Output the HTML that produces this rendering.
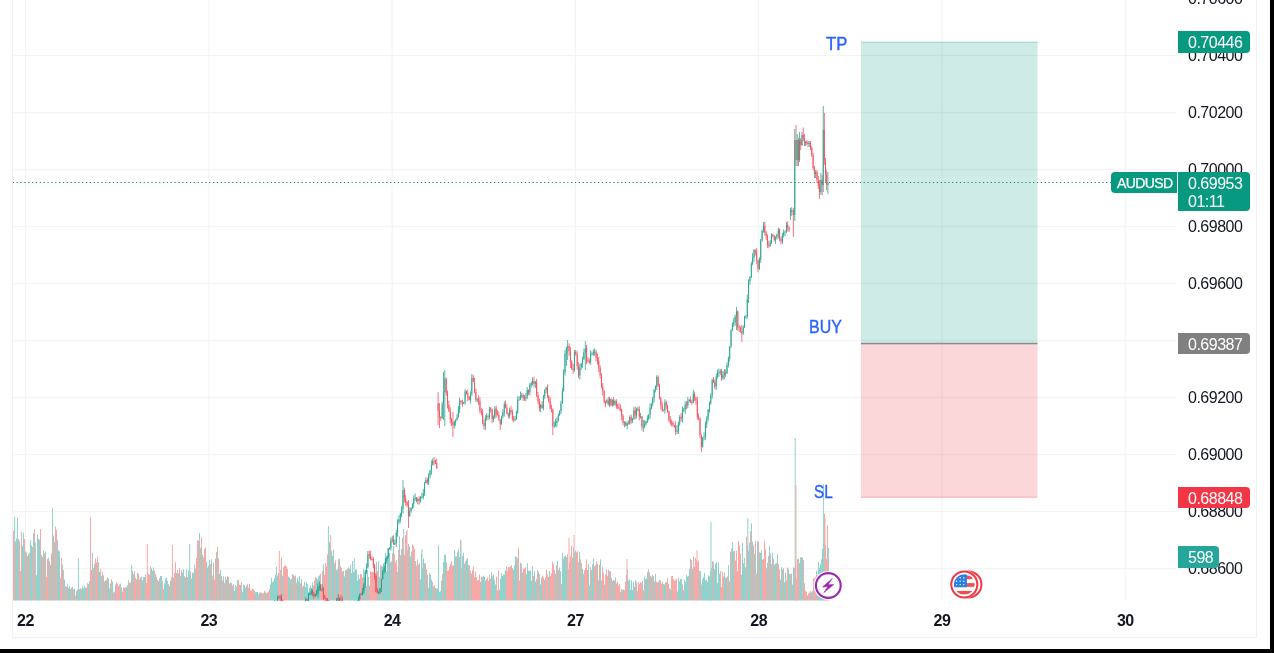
<!DOCTYPE html>
<html><head><meta charset="utf-8">
<style>
*{margin:0;padding:0;box-sizing:border-box}
html,body{width:1274px;height:653px;overflow:hidden;background:#fff;font-family:"Liberation Sans",sans-serif}
#txt{position:absolute;left:0;top:0;width:1274px;height:653px;will-change:transform}
.abs{position:absolute}
#frame{position:absolute;left:12px;top:-2px;width:1245px;height:640px;border:1px solid #f0f1f2}
#bk-r{position:absolute;left:1270px;top:0;width:4px;height:653px;background:#000}
#bk-b{position:absolute;left:0;top:649px;width:1274px;height:4px;background:#000}
.pl{position:absolute;left:1188px;font-size:16px;letter-spacing:-0.5px;color:#131722;line-height:16px;white-space:nowrap}
.tl{position:absolute;top:612.5px;font-size:16px;letter-spacing:-0.5px;font-weight:bold;color:#131722;line-height:16px;width:40px;text-align:center}
.lab{position:absolute;left:1178px;width:72px;height:22px;border-radius:0 4px 4px 0;color:#fff;font-size:16px;letter-spacing:-0.5px;line-height:22px;padding-left:10px;white-space:nowrap}
.blue{position:absolute;color:#2962ff;font-size:19px;line-height:19px;white-space:nowrap;transform-origin:0 0;-webkit-text-stroke:0.4px #2962ff}
</style></head><body>
<div id="frame"></div>
<svg class="abs" style="left:0;top:0" width="1274" height="653" viewBox="0 0 1274 653">
<defs><clipPath id="pane"><rect x="13" y="0" width="1164" height="601"/></clipPath></defs>
<g clip-path="url(#pane)"><g>
<rect x="13" y="54.90" width="1164" height="1.3" fill="#f3f4f4"/>
<rect x="13" y="111.90" width="1164" height="1.3" fill="#f3f4f4"/>
<rect x="13" y="168.90" width="1164" height="1.3" fill="#f3f4f4"/>
<rect x="13" y="225.90" width="1164" height="1.3" fill="#f3f4f4"/>
<rect x="13" y="282.90" width="1164" height="1.3" fill="#f3f4f4"/>
<rect x="13" y="339.90" width="1164" height="1.3" fill="#f3f4f4"/>
<rect x="13" y="396.90" width="1164" height="1.3" fill="#f3f4f4"/>
<rect x="13" y="453.90" width="1164" height="1.3" fill="#f3f4f4"/>
<rect x="13" y="510.90" width="1164" height="1.3" fill="#f3f4f4"/>
<rect x="13" y="567.90" width="1164" height="1.3" fill="#f3f4f4"/>
<rect x="24.90" y="0" width="1.2" height="601" fill="#f3f4f4"/>
<rect x="208.20" y="0" width="1.2" height="601" fill="#f3f4f4"/>
<rect x="391.50" y="0" width="1.2" height="601" fill="#f3f4f4"/>
<rect x="574.80" y="0" width="1.2" height="601" fill="#f3f4f4"/>
<rect x="758.10" y="0" width="1.2" height="601" fill="#f3f4f4"/>
<rect x="941.40" y="0" width="1.2" height="601" fill="#f3f4f4"/>
<rect x="1124.70" y="0" width="1.2" height="601" fill="#f3f4f4"/>
<rect x="13.00" y="530.7" width="1.00" height="69.8" fill="#f7a9a7"/>
<rect x="14.00" y="543.2" width="1.00" height="57.3" fill="#92d2cc"/>
<rect x="15.00" y="541.2" width="1.00" height="59.3" fill="#f7a9a7"/>
<rect x="16.00" y="538.4" width="1.00" height="62.1" fill="#92d2cc"/>
<rect x="17.00" y="517.5" width="1.00" height="83.0" fill="#92d2cc"/>
<rect x="18.00" y="539.0" width="1.00" height="61.5" fill="#f7a9a7"/>
<rect x="19.00" y="540.7" width="1.00" height="59.8" fill="#92d2cc"/>
<rect x="20.00" y="571.0" width="1.00" height="29.5" fill="#f7a9a7"/>
<rect x="21.00" y="531.8" width="1.00" height="68.7" fill="#f7a9a7"/>
<rect x="22.00" y="546.1" width="1.00" height="54.4" fill="#92d2cc"/>
<rect x="23.00" y="532.6" width="1.00" height="67.9" fill="#92d2cc"/>
<rect x="24.00" y="539.1" width="1.00" height="61.4" fill="#f7a9a7"/>
<rect x="25.00" y="551.4" width="1.00" height="49.1" fill="#92d2cc"/>
<rect x="26.00" y="552.5" width="1.00" height="48.0" fill="#92d2cc"/>
<rect x="27.00" y="555.8" width="1.00" height="44.7" fill="#f7a9a7"/>
<rect x="28.00" y="554.3" width="1.00" height="46.2" fill="#92d2cc"/>
<rect x="29.00" y="552.7" width="1.00" height="47.8" fill="#f7a9a7"/>
<rect x="30.00" y="540.1" width="1.00" height="60.4" fill="#92d2cc"/>
<rect x="31.00" y="545.4" width="1.00" height="55.1" fill="#92d2cc"/>
<rect x="32.00" y="547.0" width="1.00" height="53.5" fill="#f7a9a7"/>
<rect x="33.00" y="532.9" width="1.00" height="67.6" fill="#92d2cc"/>
<rect x="34.00" y="529.3" width="1.00" height="71.2" fill="#f7a9a7"/>
<rect x="35.00" y="542.6" width="1.00" height="57.9" fill="#92d2cc"/>
<rect x="36.00" y="575.3" width="1.00" height="25.2" fill="#92d2cc"/>
<rect x="37.00" y="534.5" width="1.00" height="66.0" fill="#92d2cc"/>
<rect x="38.00" y="538.8" width="1.00" height="61.7" fill="#92d2cc"/>
<rect x="39.00" y="539.6" width="1.00" height="60.9" fill="#92d2cc"/>
<rect x="40.00" y="529.1" width="1.00" height="71.4" fill="#f7a9a7"/>
<rect x="41.00" y="555.0" width="1.00" height="45.5" fill="#92d2cc"/>
<rect x="42.00" y="557.0" width="1.00" height="43.5" fill="#f7a9a7"/>
<rect x="43.00" y="550.2" width="1.00" height="50.3" fill="#92d2cc"/>
<rect x="44.00" y="553.7" width="1.00" height="46.8" fill="#f7a9a7"/>
<rect x="45.00" y="551.4" width="1.00" height="49.1" fill="#92d2cc"/>
<rect x="46.00" y="576.8" width="1.00" height="23.7" fill="#f7a9a7"/>
<rect x="47.00" y="558.7" width="1.00" height="41.8" fill="#f7a9a7"/>
<rect x="48.00" y="557.7" width="1.00" height="42.8" fill="#92d2cc"/>
<rect x="49.00" y="561.3" width="1.00" height="39.2" fill="#f7a9a7"/>
<rect x="50.00" y="564.9" width="1.00" height="35.6" fill="#92d2cc"/>
<rect x="51.00" y="553.6" width="1.00" height="46.9" fill="#f7a9a7"/>
<rect x="52.00" y="554.9" width="1.00" height="45.6" fill="#92d2cc"/>
<rect x="53.00" y="535.5" width="1.00" height="65.0" fill="#f7a9a7"/>
<rect x="54.00" y="542.1" width="1.00" height="58.4" fill="#92d2cc"/>
<rect x="55.00" y="526.5" width="1.00" height="74.0" fill="#f7a9a7"/>
<rect x="56.00" y="530.0" width="1.00" height="70.5" fill="#f7a9a7"/>
<rect x="57.00" y="540.2" width="1.00" height="60.3" fill="#92d2cc"/>
<rect x="58.00" y="550.3" width="1.00" height="50.2" fill="#92d2cc"/>
<rect x="59.00" y="551.3" width="1.00" height="49.2" fill="#92d2cc"/>
<rect x="60.00" y="578.2" width="1.00" height="22.3" fill="#f7a9a7"/>
<rect x="61.00" y="557.8" width="1.00" height="42.7" fill="#f7a9a7"/>
<rect x="62.00" y="564.9" width="1.00" height="35.6" fill="#92d2cc"/>
<rect x="63.00" y="570.1" width="1.00" height="30.4" fill="#f7a9a7"/>
<rect x="64.00" y="579.4" width="1.00" height="21.1" fill="#92d2cc"/>
<rect x="65.00" y="586.4" width="1.00" height="14.1" fill="#f7a9a7"/>
<rect x="66.00" y="586.9" width="1.00" height="13.6" fill="#f7a9a7"/>
<rect x="67.00" y="584.2" width="1.00" height="16.3" fill="#92d2cc"/>
<rect x="68.00" y="588.1" width="1.00" height="12.4" fill="#92d2cc"/>
<rect x="69.00" y="586.2" width="1.00" height="14.3" fill="#92d2cc"/>
<rect x="70.00" y="589.0" width="1.00" height="11.5" fill="#92d2cc"/>
<rect x="71.00" y="587.3" width="1.00" height="13.2" fill="#f7a9a7"/>
<rect x="72.00" y="586.8" width="1.00" height="13.7" fill="#92d2cc"/>
<rect x="73.00" y="589.4" width="1.00" height="11.1" fill="#f7a9a7"/>
<rect x="74.00" y="588.6" width="1.00" height="11.9" fill="#92d2cc"/>
<rect x="75.00" y="595.5" width="1.00" height="5.0" fill="#f7a9a7"/>
<rect x="76.00" y="590.9" width="1.00" height="9.6" fill="#92d2cc"/>
<rect x="77.00" y="589.7" width="1.00" height="10.8" fill="#f7a9a7"/>
<rect x="78.00" y="588.1" width="1.00" height="12.4" fill="#92d2cc"/>
<rect x="79.00" y="589.2" width="1.00" height="11.3" fill="#92d2cc"/>
<rect x="80.00" y="587.9" width="1.00" height="12.6" fill="#f7a9a7"/>
<rect x="81.00" y="589.2" width="1.00" height="11.3" fill="#92d2cc"/>
<rect x="82.00" y="586.5" width="1.00" height="14.0" fill="#92d2cc"/>
<rect x="83.00" y="588.1" width="1.00" height="12.4" fill="#92d2cc"/>
<rect x="84.00" y="585.7" width="1.00" height="14.8" fill="#92d2cc"/>
<rect x="85.00" y="587.5" width="1.00" height="13.0" fill="#92d2cc"/>
<rect x="86.00" y="587.9" width="1.00" height="12.6" fill="#f7a9a7"/>
<rect x="87.00" y="583.1" width="1.00" height="17.4" fill="#f7a9a7"/>
<rect x="88.00" y="583.8" width="1.00" height="16.7" fill="#92d2cc"/>
<rect x="89.00" y="581.2" width="1.00" height="19.3" fill="#92d2cc"/>
<rect x="90.00" y="566.7" width="1.00" height="33.8" fill="#92d2cc"/>
<rect x="91.00" y="570.1" width="1.00" height="30.4" fill="#f7a9a7"/>
<rect x="92.00" y="552.7" width="1.00" height="47.8" fill="#92d2cc"/>
<rect x="93.00" y="568.0" width="1.00" height="32.5" fill="#f7a9a7"/>
<rect x="94.00" y="563.9" width="1.00" height="36.6" fill="#92d2cc"/>
<rect x="95.00" y="558.3" width="1.00" height="42.2" fill="#f7a9a7"/>
<rect x="96.00" y="562.4" width="1.00" height="38.1" fill="#f7a9a7"/>
<rect x="97.00" y="556.8" width="1.00" height="43.7" fill="#f7a9a7"/>
<rect x="98.00" y="562.1" width="1.00" height="38.4" fill="#92d2cc"/>
<rect x="99.00" y="571.8" width="1.00" height="28.7" fill="#92d2cc"/>
<rect x="100.00" y="568.6" width="1.00" height="31.9" fill="#f7a9a7"/>
<rect x="101.00" y="576.1" width="1.00" height="24.4" fill="#92d2cc"/>
<rect x="102.00" y="571.7" width="1.00" height="28.8" fill="#f7a9a7"/>
<rect x="103.00" y="575.4" width="1.00" height="25.1" fill="#92d2cc"/>
<rect x="104.00" y="581.3" width="1.00" height="19.2" fill="#f7a9a7"/>
<rect x="105.00" y="580.4" width="1.00" height="20.1" fill="#92d2cc"/>
<rect x="106.00" y="579.6" width="1.00" height="20.9" fill="#92d2cc"/>
<rect x="107.00" y="577.3" width="1.00" height="23.2" fill="#f7a9a7"/>
<rect x="108.00" y="578.4" width="1.00" height="22.1" fill="#92d2cc"/>
<rect x="109.00" y="588.4" width="1.00" height="12.1" fill="#92d2cc"/>
<rect x="110.00" y="583.4" width="1.00" height="17.1" fill="#92d2cc"/>
<rect x="111.00" y="579.2" width="1.00" height="21.3" fill="#f7a9a7"/>
<rect x="112.00" y="581.6" width="1.00" height="18.9" fill="#92d2cc"/>
<rect x="113.00" y="592.5" width="1.00" height="8.0" fill="#f7a9a7"/>
<rect x="114.00" y="591.5" width="1.00" height="9.0" fill="#f7a9a7"/>
<rect x="115.00" y="584.6" width="1.00" height="15.9" fill="#92d2cc"/>
<rect x="116.00" y="582.3" width="1.00" height="18.2" fill="#f7a9a7"/>
<rect x="117.00" y="583.5" width="1.00" height="17.0" fill="#f7a9a7"/>
<rect x="118.00" y="586.1" width="1.00" height="14.4" fill="#f7a9a7"/>
<rect x="119.00" y="584.3" width="1.00" height="16.2" fill="#f7a9a7"/>
<rect x="120.00" y="583.6" width="1.00" height="16.9" fill="#92d2cc"/>
<rect x="121.00" y="587.6" width="1.00" height="12.9" fill="#92d2cc"/>
<rect x="122.00" y="591.5" width="1.00" height="9.0" fill="#f7a9a7"/>
<rect x="123.00" y="587.4" width="1.00" height="13.1" fill="#f7a9a7"/>
<rect x="124.00" y="587.7" width="1.00" height="12.8" fill="#f7a9a7"/>
<rect x="125.00" y="587.5" width="1.00" height="13.0" fill="#f7a9a7"/>
<rect x="126.00" y="587.1" width="1.00" height="13.4" fill="#92d2cc"/>
<rect x="127.00" y="585.0" width="1.00" height="15.5" fill="#92d2cc"/>
<rect x="128.00" y="580.3" width="1.00" height="20.2" fill="#f7a9a7"/>
<rect x="129.00" y="582.7" width="1.00" height="17.8" fill="#92d2cc"/>
<rect x="130.00" y="582.4" width="1.00" height="18.1" fill="#f7a9a7"/>
<rect x="131.00" y="578.4" width="1.00" height="22.1" fill="#92d2cc"/>
<rect x="132.00" y="571.0" width="1.00" height="29.5" fill="#92d2cc"/>
<rect x="133.00" y="574.2" width="1.00" height="26.3" fill="#f7a9a7"/>
<rect x="134.00" y="571.2" width="1.00" height="29.3" fill="#f7a9a7"/>
<rect x="135.00" y="577.9" width="1.00" height="22.6" fill="#f7a9a7"/>
<rect x="136.00" y="579.4" width="1.00" height="21.1" fill="#f7a9a7"/>
<rect x="137.00" y="572.7" width="1.00" height="27.8" fill="#92d2cc"/>
<rect x="138.00" y="574.0" width="1.00" height="26.5" fill="#f7a9a7"/>
<rect x="139.00" y="579.4" width="1.00" height="21.1" fill="#f7a9a7"/>
<rect x="140.00" y="577.3" width="1.00" height="23.2" fill="#f7a9a7"/>
<rect x="141.00" y="576.6" width="1.00" height="23.9" fill="#92d2cc"/>
<rect x="142.00" y="580.4" width="1.00" height="20.1" fill="#92d2cc"/>
<rect x="143.00" y="576.9" width="1.00" height="23.6" fill="#92d2cc"/>
<rect x="144.00" y="576.9" width="1.00" height="23.6" fill="#f7a9a7"/>
<rect x="145.00" y="574.6" width="1.00" height="25.9" fill="#92d2cc"/>
<rect x="146.00" y="583.4" width="1.00" height="17.1" fill="#f7a9a7"/>
<rect x="147.00" y="573.1" width="1.00" height="27.4" fill="#f7a9a7"/>
<rect x="148.00" y="573.8" width="1.00" height="26.7" fill="#f7a9a7"/>
<rect x="149.00" y="574.8" width="1.00" height="25.7" fill="#f7a9a7"/>
<rect x="150.00" y="566.4" width="1.00" height="34.1" fill="#f7a9a7"/>
<rect x="151.00" y="568.5" width="1.00" height="32.0" fill="#92d2cc"/>
<rect x="152.00" y="570.7" width="1.00" height="29.8" fill="#92d2cc"/>
<rect x="153.00" y="567.4" width="1.00" height="33.1" fill="#92d2cc"/>
<rect x="154.00" y="570.6" width="1.00" height="29.9" fill="#f7a9a7"/>
<rect x="155.00" y="573.9" width="1.00" height="26.6" fill="#92d2cc"/>
<rect x="156.00" y="576.9" width="1.00" height="23.6" fill="#f7a9a7"/>
<rect x="157.00" y="579.7" width="1.00" height="20.8" fill="#92d2cc"/>
<rect x="158.00" y="581.3" width="1.00" height="19.2" fill="#f7a9a7"/>
<rect x="159.00" y="578.3" width="1.00" height="22.2" fill="#92d2cc"/>
<rect x="160.00" y="575.9" width="1.00" height="24.6" fill="#92d2cc"/>
<rect x="161.00" y="576.0" width="1.00" height="24.5" fill="#92d2cc"/>
<rect x="162.00" y="580.7" width="1.00" height="19.8" fill="#f7a9a7"/>
<rect x="163.00" y="589.3" width="1.00" height="11.2" fill="#f7a9a7"/>
<rect x="164.00" y="583.4" width="1.00" height="17.1" fill="#92d2cc"/>
<rect x="165.00" y="578.4" width="1.00" height="22.1" fill="#92d2cc"/>
<rect x="166.00" y="577.6" width="1.00" height="22.9" fill="#92d2cc"/>
<rect x="167.00" y="580.9" width="1.00" height="19.6" fill="#92d2cc"/>
<rect x="168.00" y="584.3" width="1.00" height="16.2" fill="#92d2cc"/>
<rect x="169.00" y="585.9" width="1.00" height="14.6" fill="#f7a9a7"/>
<rect x="170.00" y="580.7" width="1.00" height="19.8" fill="#92d2cc"/>
<rect x="171.00" y="577.4" width="1.00" height="23.1" fill="#f7a9a7"/>
<rect x="172.00" y="574.7" width="1.00" height="25.8" fill="#92d2cc"/>
<rect x="173.00" y="577.6" width="1.00" height="22.9" fill="#92d2cc"/>
<rect x="174.00" y="572.8" width="1.00" height="27.7" fill="#f7a9a7"/>
<rect x="175.00" y="562.2" width="1.00" height="38.3" fill="#f7a9a7"/>
<rect x="176.00" y="573.0" width="1.00" height="27.5" fill="#92d2cc"/>
<rect x="177.00" y="570.1" width="1.00" height="30.4" fill="#f7a9a7"/>
<rect x="178.00" y="573.0" width="1.00" height="27.5" fill="#92d2cc"/>
<rect x="179.00" y="568.1" width="1.00" height="32.4" fill="#f7a9a7"/>
<rect x="180.00" y="576.0" width="1.00" height="24.5" fill="#92d2cc"/>
<rect x="181.00" y="570.2" width="1.00" height="30.3" fill="#f7a9a7"/>
<rect x="182.00" y="572.8" width="1.00" height="27.7" fill="#92d2cc"/>
<rect x="183.00" y="569.2" width="1.00" height="31.3" fill="#92d2cc"/>
<rect x="184.00" y="576.2" width="1.00" height="24.3" fill="#f7a9a7"/>
<rect x="185.00" y="577.7" width="1.00" height="22.8" fill="#92d2cc"/>
<rect x="186.00" y="569.5" width="1.00" height="31.0" fill="#92d2cc"/>
<rect x="187.00" y="577.0" width="1.00" height="23.5" fill="#f7a9a7"/>
<rect x="188.00" y="570.0" width="1.00" height="30.5" fill="#92d2cc"/>
<rect x="189.00" y="574.9" width="1.00" height="25.6" fill="#92d2cc"/>
<rect x="190.00" y="571.7" width="1.00" height="28.8" fill="#f7a9a7"/>
<rect x="191.00" y="578.6" width="1.00" height="21.9" fill="#92d2cc"/>
<rect x="192.00" y="572.8" width="1.00" height="27.7" fill="#92d2cc"/>
<rect x="193.00" y="572.6" width="1.00" height="27.9" fill="#92d2cc"/>
<rect x="194.00" y="564.6" width="1.00" height="35.9" fill="#92d2cc"/>
<rect x="195.00" y="568.5" width="1.00" height="32.0" fill="#f7a9a7"/>
<rect x="196.00" y="557.7" width="1.00" height="42.8" fill="#f7a9a7"/>
<rect x="197.00" y="539.9" width="1.00" height="60.6" fill="#f7a9a7"/>
<rect x="198.00" y="540.9" width="1.00" height="59.6" fill="#f7a9a7"/>
<rect x="199.00" y="534.4" width="1.00" height="66.1" fill="#92d2cc"/>
<rect x="200.00" y="547.8" width="1.00" height="52.7" fill="#92d2cc"/>
<rect x="201.00" y="537.1" width="1.00" height="63.4" fill="#f7a9a7"/>
<rect x="202.00" y="554.9" width="1.00" height="45.6" fill="#92d2cc"/>
<rect x="203.00" y="557.3" width="1.00" height="43.2" fill="#f7a9a7"/>
<rect x="204.00" y="549.0" width="1.00" height="51.5" fill="#f7a9a7"/>
<rect x="205.00" y="547.6" width="1.00" height="52.9" fill="#f7a9a7"/>
<rect x="206.00" y="561.4" width="1.00" height="39.1" fill="#92d2cc"/>
<rect x="207.00" y="567.4" width="1.00" height="33.1" fill="#92d2cc"/>
<rect x="208.00" y="566.0" width="1.00" height="34.5" fill="#f7a9a7"/>
<rect x="209.00" y="559.9" width="1.00" height="40.6" fill="#92d2cc"/>
<rect x="210.00" y="564.0" width="1.00" height="36.5" fill="#f7a9a7"/>
<rect x="211.00" y="559.4" width="1.00" height="41.1" fill="#92d2cc"/>
<rect x="212.00" y="575.5" width="1.00" height="25.0" fill="#f7a9a7"/>
<rect x="213.00" y="563.1" width="1.00" height="37.4" fill="#92d2cc"/>
<rect x="214.00" y="579.7" width="1.00" height="20.8" fill="#f7a9a7"/>
<rect x="215.00" y="558.6" width="1.00" height="41.9" fill="#f7a9a7"/>
<rect x="216.00" y="551.8" width="1.00" height="48.7" fill="#92d2cc"/>
<rect x="217.00" y="549.0" width="1.00" height="51.5" fill="#f7a9a7"/>
<rect x="218.00" y="558.5" width="1.00" height="42.0" fill="#f7a9a7"/>
<rect x="219.00" y="573.8" width="1.00" height="26.7" fill="#92d2cc"/>
<rect x="220.00" y="569.6" width="1.00" height="30.9" fill="#92d2cc"/>
<rect x="221.00" y="576.1" width="1.00" height="24.4" fill="#f7a9a7"/>
<rect x="222.00" y="580.4" width="1.00" height="20.1" fill="#f7a9a7"/>
<rect x="223.00" y="576.5" width="1.00" height="24.0" fill="#92d2cc"/>
<rect x="224.00" y="582.9" width="1.00" height="17.6" fill="#f7a9a7"/>
<rect x="225.00" y="576.9" width="1.00" height="23.6" fill="#92d2cc"/>
<rect x="226.00" y="579.4" width="1.00" height="21.1" fill="#92d2cc"/>
<rect x="227.00" y="576.0" width="1.00" height="24.5" fill="#f7a9a7"/>
<rect x="228.00" y="576.9" width="1.00" height="23.6" fill="#92d2cc"/>
<rect x="229.00" y="583.5" width="1.00" height="17.0" fill="#f7a9a7"/>
<rect x="230.00" y="582.4" width="1.00" height="18.1" fill="#92d2cc"/>
<rect x="231.00" y="583.0" width="1.00" height="17.5" fill="#f7a9a7"/>
<rect x="232.00" y="585.8" width="1.00" height="14.7" fill="#92d2cc"/>
<rect x="233.00" y="583.7" width="1.00" height="16.8" fill="#f7a9a7"/>
<rect x="234.00" y="590.8" width="1.00" height="9.7" fill="#92d2cc"/>
<rect x="235.00" y="585.0" width="1.00" height="15.5" fill="#92d2cc"/>
<rect x="236.00" y="586.5" width="1.00" height="14.0" fill="#f7a9a7"/>
<rect x="237.00" y="580.3" width="1.00" height="20.2" fill="#92d2cc"/>
<rect x="238.00" y="579.7" width="1.00" height="20.8" fill="#f7a9a7"/>
<rect x="239.00" y="584.9" width="1.00" height="15.6" fill="#f7a9a7"/>
<rect x="240.00" y="584.9" width="1.00" height="15.6" fill="#92d2cc"/>
<rect x="241.00" y="582.3" width="1.00" height="18.2" fill="#f7a9a7"/>
<rect x="242.00" y="592.1" width="1.00" height="8.4" fill="#92d2cc"/>
<rect x="243.00" y="584.6" width="1.00" height="15.9" fill="#92d2cc"/>
<rect x="244.00" y="585.5" width="1.00" height="15.0" fill="#92d2cc"/>
<rect x="245.00" y="587.4" width="1.00" height="13.1" fill="#92d2cc"/>
<rect x="246.00" y="585.5" width="1.00" height="15.0" fill="#92d2cc"/>
<rect x="247.00" y="583.7" width="1.00" height="16.8" fill="#f7a9a7"/>
<rect x="248.00" y="587.7" width="1.00" height="12.8" fill="#f7a9a7"/>
<rect x="249.00" y="584.1" width="1.00" height="16.4" fill="#f7a9a7"/>
<rect x="250.00" y="590.2" width="1.00" height="10.3" fill="#f7a9a7"/>
<rect x="251.00" y="590.8" width="1.00" height="9.7" fill="#f7a9a7"/>
<rect x="252.00" y="589.0" width="1.00" height="11.5" fill="#f7a9a7"/>
<rect x="253.00" y="589.0" width="1.00" height="11.5" fill="#f7a9a7"/>
<rect x="254.00" y="590.9" width="1.00" height="9.6" fill="#92d2cc"/>
<rect x="255.00" y="592.3" width="1.00" height="8.2" fill="#f7a9a7"/>
<rect x="256.00" y="591.9" width="1.00" height="8.6" fill="#92d2cc"/>
<rect x="257.00" y="592.0" width="1.00" height="8.5" fill="#92d2cc"/>
<rect x="258.00" y="594.4" width="1.00" height="6.1" fill="#f7a9a7"/>
<rect x="259.00" y="592.7" width="1.00" height="7.8" fill="#92d2cc"/>
<rect x="260.00" y="592.5" width="1.00" height="8.0" fill="#f7a9a7"/>
<rect x="261.00" y="592.8" width="1.00" height="7.7" fill="#92d2cc"/>
<rect x="262.00" y="593.4" width="1.00" height="7.1" fill="#f7a9a7"/>
<rect x="263.00" y="593.4" width="1.00" height="7.1" fill="#f7a9a7"/>
<rect x="264.00" y="590.9" width="1.00" height="9.6" fill="#f7a9a7"/>
<rect x="265.00" y="591.6" width="1.00" height="8.9" fill="#92d2cc"/>
<rect x="266.00" y="593.2" width="1.00" height="7.3" fill="#f7a9a7"/>
<rect x="267.00" y="592.4" width="1.00" height="8.1" fill="#92d2cc"/>
<rect x="268.00" y="591.3" width="1.00" height="9.2" fill="#f7a9a7"/>
<rect x="269.00" y="589.0" width="1.00" height="11.5" fill="#f7a9a7"/>
<rect x="270.00" y="584.5" width="1.00" height="16.0" fill="#92d2cc"/>
<rect x="271.00" y="578.0" width="1.00" height="22.5" fill="#92d2cc"/>
<rect x="272.00" y="582.3" width="1.00" height="18.2" fill="#92d2cc"/>
<rect x="273.00" y="580.9" width="1.00" height="19.6" fill="#92d2cc"/>
<rect x="274.00" y="578.4" width="1.00" height="22.1" fill="#92d2cc"/>
<rect x="275.00" y="574.8" width="1.00" height="25.7" fill="#92d2cc"/>
<rect x="276.00" y="566.6" width="1.00" height="33.9" fill="#92d2cc"/>
<rect x="277.00" y="575.5" width="1.00" height="25.0" fill="#92d2cc"/>
<rect x="278.00" y="573.3" width="1.00" height="27.2" fill="#f7a9a7"/>
<rect x="279.00" y="579.1" width="1.00" height="21.4" fill="#f7a9a7"/>
<rect x="280.00" y="570.0" width="1.00" height="30.5" fill="#92d2cc"/>
<rect x="281.00" y="557.1" width="1.00" height="43.4" fill="#f7a9a7"/>
<rect x="282.00" y="575.7" width="1.00" height="24.8" fill="#92d2cc"/>
<rect x="283.00" y="567.2" width="1.00" height="33.3" fill="#f7a9a7"/>
<rect x="284.00" y="565.8" width="1.00" height="34.7" fill="#f7a9a7"/>
<rect x="285.00" y="565.4" width="1.00" height="35.1" fill="#f7a9a7"/>
<rect x="286.00" y="566.6" width="1.00" height="33.9" fill="#f7a9a7"/>
<rect x="287.00" y="569.1" width="1.00" height="31.4" fill="#f7a9a7"/>
<rect x="288.00" y="576.5" width="1.00" height="24.0" fill="#92d2cc"/>
<rect x="289.00" y="577.7" width="1.00" height="22.8" fill="#92d2cc"/>
<rect x="290.00" y="579.6" width="1.00" height="20.9" fill="#f7a9a7"/>
<rect x="291.00" y="578.7" width="1.00" height="21.8" fill="#92d2cc"/>
<rect x="292.00" y="574.1" width="1.00" height="26.4" fill="#92d2cc"/>
<rect x="293.00" y="574.8" width="1.00" height="25.7" fill="#f7a9a7"/>
<rect x="294.00" y="576.4" width="1.00" height="24.1" fill="#92d2cc"/>
<rect x="295.00" y="575.4" width="1.00" height="25.1" fill="#f7a9a7"/>
<rect x="296.00" y="582.9" width="1.00" height="17.6" fill="#f7a9a7"/>
<rect x="297.00" y="577.7" width="1.00" height="22.8" fill="#92d2cc"/>
<rect x="298.00" y="581.3" width="1.00" height="19.2" fill="#92d2cc"/>
<rect x="299.00" y="576.1" width="1.00" height="24.4" fill="#92d2cc"/>
<rect x="300.00" y="583.3" width="1.00" height="17.2" fill="#f7a9a7"/>
<rect x="301.00" y="579.0" width="1.00" height="21.5" fill="#92d2cc"/>
<rect x="302.00" y="586.7" width="1.00" height="13.8" fill="#92d2cc"/>
<rect x="303.00" y="585.7" width="1.00" height="14.8" fill="#f7a9a7"/>
<rect x="304.00" y="581.6" width="1.00" height="18.9" fill="#92d2cc"/>
<rect x="305.00" y="587.0" width="1.00" height="13.5" fill="#92d2cc"/>
<rect x="306.00" y="582.3" width="1.00" height="18.2" fill="#92d2cc"/>
<rect x="307.00" y="584.1" width="1.00" height="16.4" fill="#92d2cc"/>
<rect x="308.00" y="591.7" width="1.00" height="8.8" fill="#92d2cc"/>
<rect x="309.00" y="587.6" width="1.00" height="12.9" fill="#92d2cc"/>
<rect x="310.00" y="585.7" width="1.00" height="14.8" fill="#92d2cc"/>
<rect x="311.00" y="588.2" width="1.00" height="12.3" fill="#92d2cc"/>
<rect x="312.00" y="582.3" width="1.00" height="18.2" fill="#92d2cc"/>
<rect x="313.00" y="585.4" width="1.00" height="15.1" fill="#92d2cc"/>
<rect x="314.00" y="580.5" width="1.00" height="20.0" fill="#f7a9a7"/>
<rect x="315.00" y="577.1" width="1.00" height="23.4" fill="#f7a9a7"/>
<rect x="316.00" y="578.0" width="1.00" height="22.5" fill="#92d2cc"/>
<rect x="317.00" y="579.4" width="1.00" height="21.1" fill="#92d2cc"/>
<rect x="318.00" y="576.5" width="1.00" height="24.0" fill="#92d2cc"/>
<rect x="319.00" y="575.3" width="1.00" height="25.2" fill="#92d2cc"/>
<rect x="320.00" y="573.8" width="1.00" height="26.7" fill="#f7a9a7"/>
<rect x="321.00" y="589.4" width="1.00" height="11.1" fill="#f7a9a7"/>
<rect x="322.00" y="570.7" width="1.00" height="29.8" fill="#f7a9a7"/>
<rect x="323.00" y="564.2" width="1.00" height="36.3" fill="#92d2cc"/>
<rect x="324.00" y="574.5" width="1.00" height="26.0" fill="#f7a9a7"/>
<rect x="325.00" y="563.1" width="1.00" height="37.4" fill="#f7a9a7"/>
<rect x="326.00" y="566.3" width="1.00" height="34.2" fill="#f7a9a7"/>
<rect x="327.00" y="554.3" width="1.00" height="46.2" fill="#f7a9a7"/>
<rect x="328.00" y="549.5" width="1.00" height="51.0" fill="#f7a9a7"/>
<rect x="329.00" y="542.4" width="1.00" height="58.1" fill="#92d2cc"/>
<rect x="330.00" y="551.5" width="1.00" height="49.0" fill="#f7a9a7"/>
<rect x="331.00" y="550.5" width="1.00" height="50.0" fill="#92d2cc"/>
<rect x="332.00" y="555.9" width="1.00" height="44.6" fill="#92d2cc"/>
<rect x="333.00" y="549.5" width="1.00" height="51.0" fill="#92d2cc"/>
<rect x="334.00" y="563.1" width="1.00" height="37.4" fill="#92d2cc"/>
<rect x="335.00" y="560.5" width="1.00" height="40.0" fill="#f7a9a7"/>
<rect x="336.00" y="570.0" width="1.00" height="30.5" fill="#92d2cc"/>
<rect x="337.00" y="569.3" width="1.00" height="31.2" fill="#92d2cc"/>
<rect x="338.00" y="559.4" width="1.00" height="41.1" fill="#92d2cc"/>
<rect x="339.00" y="558.8" width="1.00" height="41.7" fill="#f7a9a7"/>
<rect x="340.00" y="566.5" width="1.00" height="34.0" fill="#f7a9a7"/>
<rect x="341.00" y="568.0" width="1.00" height="32.5" fill="#f7a9a7"/>
<rect x="342.00" y="571.6" width="1.00" height="28.9" fill="#f7a9a7"/>
<rect x="343.00" y="570.8" width="1.00" height="29.7" fill="#92d2cc"/>
<rect x="344.00" y="576.4" width="1.00" height="24.1" fill="#92d2cc"/>
<rect x="345.00" y="570.3" width="1.00" height="30.2" fill="#92d2cc"/>
<rect x="346.00" y="569.8" width="1.00" height="30.7" fill="#f7a9a7"/>
<rect x="347.00" y="568.7" width="1.00" height="31.8" fill="#92d2cc"/>
<rect x="348.00" y="567.2" width="1.00" height="33.3" fill="#92d2cc"/>
<rect x="349.00" y="568.9" width="1.00" height="31.6" fill="#f7a9a7"/>
<rect x="350.00" y="564.5" width="1.00" height="36.0" fill="#92d2cc"/>
<rect x="351.00" y="573.1" width="1.00" height="27.4" fill="#92d2cc"/>
<rect x="352.00" y="561.0" width="1.00" height="39.5" fill="#92d2cc"/>
<rect x="353.00" y="572.0" width="1.00" height="28.5" fill="#92d2cc"/>
<rect x="354.00" y="571.9" width="1.00" height="28.6" fill="#92d2cc"/>
<rect x="355.00" y="569.8" width="1.00" height="30.7" fill="#92d2cc"/>
<rect x="356.00" y="569.3" width="1.00" height="31.2" fill="#92d2cc"/>
<rect x="357.00" y="580.7" width="1.00" height="19.8" fill="#92d2cc"/>
<rect x="358.00" y="574.6" width="1.00" height="25.9" fill="#92d2cc"/>
<rect x="359.00" y="578.7" width="1.00" height="21.8" fill="#92d2cc"/>
<rect x="360.00" y="573.8" width="1.00" height="26.7" fill="#f7a9a7"/>
<rect x="361.00" y="574.6" width="1.00" height="25.9" fill="#f7a9a7"/>
<rect x="362.00" y="577.7" width="1.00" height="22.8" fill="#f7a9a7"/>
<rect x="363.00" y="568.8" width="1.00" height="31.7" fill="#92d2cc"/>
<rect x="364.00" y="577.6" width="1.00" height="22.9" fill="#92d2cc"/>
<rect x="365.00" y="570.0" width="1.00" height="30.5" fill="#92d2cc"/>
<rect x="366.00" y="586.4" width="1.00" height="14.1" fill="#f7a9a7"/>
<rect x="367.00" y="570.3" width="1.00" height="30.2" fill="#92d2cc"/>
<rect x="368.00" y="576.9" width="1.00" height="23.6" fill="#92d2cc"/>
<rect x="369.00" y="585.6" width="1.00" height="14.9" fill="#f7a9a7"/>
<rect x="370.00" y="571.4" width="1.00" height="29.1" fill="#f7a9a7"/>
<rect x="371.00" y="572.5" width="1.00" height="28.0" fill="#f7a9a7"/>
<rect x="372.00" y="571.5" width="1.00" height="29.0" fill="#f7a9a7"/>
<rect x="373.00" y="572.2" width="1.00" height="28.3" fill="#f7a9a7"/>
<rect x="374.00" y="565.2" width="1.00" height="35.3" fill="#f7a9a7"/>
<rect x="375.00" y="573.4" width="1.00" height="27.1" fill="#f7a9a7"/>
<rect x="376.00" y="561.7" width="1.00" height="38.8" fill="#92d2cc"/>
<rect x="377.00" y="571.0" width="1.00" height="29.5" fill="#f7a9a7"/>
<rect x="378.00" y="561.4" width="1.00" height="39.1" fill="#92d2cc"/>
<rect x="379.00" y="576.9" width="1.00" height="23.6" fill="#92d2cc"/>
<rect x="380.00" y="565.3" width="1.00" height="35.2" fill="#f7a9a7"/>
<rect x="381.00" y="566.0" width="1.00" height="34.5" fill="#92d2cc"/>
<rect x="382.00" y="566.7" width="1.00" height="33.8" fill="#92d2cc"/>
<rect x="383.00" y="563.2" width="1.00" height="37.3" fill="#92d2cc"/>
<rect x="384.00" y="562.1" width="1.00" height="38.4" fill="#92d2cc"/>
<rect x="385.00" y="552.6" width="1.00" height="47.9" fill="#92d2cc"/>
<rect x="386.00" y="571.4" width="1.00" height="29.1" fill="#92d2cc"/>
<rect x="387.00" y="555.9" width="1.00" height="44.6" fill="#92d2cc"/>
<rect x="388.00" y="550.1" width="1.00" height="50.4" fill="#92d2cc"/>
<rect x="389.00" y="552.8" width="1.00" height="47.7" fill="#92d2cc"/>
<rect x="390.00" y="562.4" width="1.00" height="38.1" fill="#f7a9a7"/>
<rect x="391.00" y="561.3" width="1.00" height="39.2" fill="#92d2cc"/>
<rect x="392.00" y="553.2" width="1.00" height="47.3" fill="#f7a9a7"/>
<rect x="393.00" y="545.6" width="1.00" height="54.9" fill="#92d2cc"/>
<rect x="394.00" y="554.3" width="1.00" height="46.2" fill="#f7a9a7"/>
<rect x="395.00" y="562.5" width="1.00" height="38.0" fill="#f7a9a7"/>
<rect x="396.00" y="560.2" width="1.00" height="40.3" fill="#f7a9a7"/>
<rect x="397.00" y="571.8" width="1.00" height="28.7" fill="#92d2cc"/>
<rect x="398.00" y="549.7" width="1.00" height="50.8" fill="#f7a9a7"/>
<rect x="399.00" y="536.2" width="1.00" height="64.3" fill="#92d2cc"/>
<rect x="400.00" y="555.1" width="1.00" height="45.4" fill="#f7a9a7"/>
<rect x="401.00" y="549.1" width="1.00" height="51.4" fill="#92d2cc"/>
<rect x="402.00" y="537.6" width="1.00" height="62.9" fill="#f7a9a7"/>
<rect x="403.00" y="549.2" width="1.00" height="51.3" fill="#92d2cc"/>
<rect x="404.00" y="555.2" width="1.00" height="45.3" fill="#f7a9a7"/>
<rect x="405.00" y="535.1" width="1.00" height="65.4" fill="#f7a9a7"/>
<rect x="406.00" y="530.9" width="1.00" height="69.6" fill="#f7a9a7"/>
<rect x="407.00" y="550.3" width="1.00" height="50.2" fill="#92d2cc"/>
<rect x="408.00" y="543.9" width="1.00" height="56.6" fill="#92d2cc"/>
<rect x="409.00" y="546.7" width="1.00" height="53.8" fill="#f7a9a7"/>
<rect x="410.00" y="556.4" width="1.00" height="44.1" fill="#92d2cc"/>
<rect x="411.00" y="551.5" width="1.00" height="49.0" fill="#92d2cc"/>
<rect x="412.00" y="544.7" width="1.00" height="55.8" fill="#f7a9a7"/>
<rect x="413.00" y="545.9" width="1.00" height="54.6" fill="#f7a9a7"/>
<rect x="414.00" y="549.1" width="1.00" height="51.4" fill="#f7a9a7"/>
<rect x="415.00" y="561.0" width="1.00" height="39.5" fill="#92d2cc"/>
<rect x="416.00" y="565.6" width="1.00" height="34.9" fill="#f7a9a7"/>
<rect x="417.00" y="559.6" width="1.00" height="40.9" fill="#f7a9a7"/>
<rect x="418.00" y="564.6" width="1.00" height="35.9" fill="#f7a9a7"/>
<rect x="419.00" y="563.5" width="1.00" height="37.0" fill="#92d2cc"/>
<rect x="420.00" y="579.2" width="1.00" height="21.3" fill="#92d2cc"/>
<rect x="421.00" y="553.5" width="1.00" height="47.0" fill="#92d2cc"/>
<rect x="422.00" y="567.9" width="1.00" height="32.6" fill="#92d2cc"/>
<rect x="423.00" y="558.6" width="1.00" height="41.9" fill="#92d2cc"/>
<rect x="424.00" y="563.5" width="1.00" height="37.0" fill="#92d2cc"/>
<rect x="425.00" y="563.0" width="1.00" height="37.5" fill="#f7a9a7"/>
<rect x="426.00" y="569.5" width="1.00" height="31.0" fill="#f7a9a7"/>
<rect x="427.00" y="575.0" width="1.00" height="25.5" fill="#92d2cc"/>
<rect x="428.00" y="587.8" width="1.00" height="12.7" fill="#92d2cc"/>
<rect x="429.00" y="573.1" width="1.00" height="27.4" fill="#92d2cc"/>
<rect x="430.00" y="574.8" width="1.00" height="25.7" fill="#92d2cc"/>
<rect x="431.00" y="579.7" width="1.00" height="20.8" fill="#92d2cc"/>
<rect x="432.00" y="581.8" width="1.00" height="18.7" fill="#f7a9a7"/>
<rect x="433.00" y="586.6" width="1.00" height="13.9" fill="#92d2cc"/>
<rect x="434.00" y="585.0" width="1.00" height="15.5" fill="#f7a9a7"/>
<rect x="435.00" y="587.9" width="1.00" height="12.6" fill="#92d2cc"/>
<rect x="436.00" y="588.7" width="1.00" height="11.8" fill="#92d2cc"/>
<rect x="437.00" y="588.5" width="1.00" height="12.0" fill="#92d2cc"/>
<rect x="438.00" y="591.2" width="1.00" height="9.3" fill="#92d2cc"/>
<rect x="439.00" y="592.2" width="1.00" height="8.3" fill="#92d2cc"/>
<rect x="440.00" y="591.2" width="1.00" height="9.3" fill="#92d2cc"/>
<rect x="441.00" y="580.6" width="1.00" height="19.9" fill="#92d2cc"/>
<rect x="442.00" y="574.1" width="1.00" height="26.4" fill="#f7a9a7"/>
<rect x="443.00" y="562.2" width="1.00" height="38.3" fill="#92d2cc"/>
<rect x="444.00" y="555.1" width="1.00" height="45.4" fill="#92d2cc"/>
<rect x="445.00" y="554.4" width="1.00" height="46.1" fill="#92d2cc"/>
<rect x="446.00" y="562.4" width="1.00" height="38.1" fill="#f7a9a7"/>
<rect x="447.00" y="570.8" width="1.00" height="29.7" fill="#f7a9a7"/>
<rect x="448.00" y="570.3" width="1.00" height="30.2" fill="#f7a9a7"/>
<rect x="449.00" y="566.7" width="1.00" height="33.8" fill="#f7a9a7"/>
<rect x="450.00" y="563.3" width="1.00" height="37.2" fill="#f7a9a7"/>
<rect x="451.00" y="561.0" width="1.00" height="39.5" fill="#f7a9a7"/>
<rect x="452.00" y="565.6" width="1.00" height="34.9" fill="#f7a9a7"/>
<rect x="453.00" y="565.3" width="1.00" height="35.2" fill="#f7a9a7"/>
<rect x="454.00" y="550.1" width="1.00" height="50.4" fill="#92d2cc"/>
<rect x="455.00" y="556.4" width="1.00" height="44.1" fill="#92d2cc"/>
<rect x="456.00" y="556.4" width="1.00" height="44.1" fill="#f7a9a7"/>
<rect x="457.00" y="551.8" width="1.00" height="48.7" fill="#92d2cc"/>
<rect x="458.00" y="549.0" width="1.00" height="51.5" fill="#92d2cc"/>
<rect x="459.00" y="557.0" width="1.00" height="43.5" fill="#92d2cc"/>
<rect x="460.00" y="539.7" width="1.00" height="60.8" fill="#f7a9a7"/>
<rect x="461.00" y="568.5" width="1.00" height="32.0" fill="#f7a9a7"/>
<rect x="462.00" y="555.7" width="1.00" height="44.8" fill="#92d2cc"/>
<rect x="463.00" y="552.6" width="1.00" height="47.9" fill="#92d2cc"/>
<rect x="464.00" y="563.6" width="1.00" height="36.9" fill="#92d2cc"/>
<rect x="465.00" y="561.3" width="1.00" height="39.2" fill="#f7a9a7"/>
<rect x="466.00" y="559.3" width="1.00" height="41.2" fill="#92d2cc"/>
<rect x="467.00" y="558.4" width="1.00" height="42.1" fill="#92d2cc"/>
<rect x="468.00" y="565.3" width="1.00" height="35.2" fill="#92d2cc"/>
<rect x="469.00" y="565.3" width="1.00" height="35.2" fill="#f7a9a7"/>
<rect x="470.00" y="570.7" width="1.00" height="29.8" fill="#f7a9a7"/>
<rect x="471.00" y="573.5" width="1.00" height="27.0" fill="#92d2cc"/>
<rect x="472.00" y="570.2" width="1.00" height="30.3" fill="#f7a9a7"/>
<rect x="473.00" y="566.7" width="1.00" height="33.8" fill="#f7a9a7"/>
<rect x="474.00" y="577.1" width="1.00" height="23.4" fill="#f7a9a7"/>
<rect x="475.00" y="571.8" width="1.00" height="28.7" fill="#f7a9a7"/>
<rect x="476.00" y="577.0" width="1.00" height="23.5" fill="#f7a9a7"/>
<rect x="477.00" y="580.2" width="1.00" height="20.3" fill="#f7a9a7"/>
<rect x="478.00" y="580.0" width="1.00" height="20.5" fill="#f7a9a7"/>
<rect x="479.00" y="574.4" width="1.00" height="26.1" fill="#f7a9a7"/>
<rect x="480.00" y="581.7" width="1.00" height="18.8" fill="#92d2cc"/>
<rect x="481.00" y="576.6" width="1.00" height="23.9" fill="#f7a9a7"/>
<rect x="482.00" y="577.0" width="1.00" height="23.5" fill="#92d2cc"/>
<rect x="483.00" y="575.6" width="1.00" height="24.9" fill="#92d2cc"/>
<rect x="484.00" y="576.9" width="1.00" height="23.6" fill="#92d2cc"/>
<rect x="485.00" y="580.9" width="1.00" height="19.6" fill="#92d2cc"/>
<rect x="486.00" y="579.0" width="1.00" height="21.5" fill="#f7a9a7"/>
<rect x="487.00" y="577.7" width="1.00" height="22.8" fill="#f7a9a7"/>
<rect x="488.00" y="580.8" width="1.00" height="19.7" fill="#f7a9a7"/>
<rect x="489.00" y="574.8" width="1.00" height="25.7" fill="#f7a9a7"/>
<rect x="490.00" y="579.0" width="1.00" height="21.5" fill="#f7a9a7"/>
<rect x="491.00" y="572.3" width="1.00" height="28.2" fill="#92d2cc"/>
<rect x="492.00" y="576.2" width="1.00" height="24.3" fill="#92d2cc"/>
<rect x="493.00" y="574.5" width="1.00" height="26.0" fill="#92d2cc"/>
<rect x="494.00" y="579.7" width="1.00" height="20.8" fill="#92d2cc"/>
<rect x="495.00" y="584.4" width="1.00" height="16.1" fill="#92d2cc"/>
<rect x="496.00" y="576.5" width="1.00" height="24.0" fill="#f7a9a7"/>
<rect x="497.00" y="590.4" width="1.00" height="10.1" fill="#f7a9a7"/>
<rect x="498.00" y="570.2" width="1.00" height="30.3" fill="#f7a9a7"/>
<rect x="499.00" y="589.6" width="1.00" height="10.9" fill="#92d2cc"/>
<rect x="500.00" y="578.6" width="1.00" height="21.9" fill="#92d2cc"/>
<rect x="501.00" y="572.8" width="1.00" height="27.7" fill="#92d2cc"/>
<rect x="502.00" y="575.9" width="1.00" height="24.6" fill="#92d2cc"/>
<rect x="503.00" y="574.4" width="1.00" height="26.1" fill="#92d2cc"/>
<rect x="504.00" y="574.6" width="1.00" height="25.9" fill="#92d2cc"/>
<rect x="505.00" y="570.3" width="1.00" height="30.2" fill="#92d2cc"/>
<rect x="506.00" y="566.5" width="1.00" height="34.0" fill="#f7a9a7"/>
<rect x="507.00" y="571.6" width="1.00" height="28.9" fill="#f7a9a7"/>
<rect x="508.00" y="567.0" width="1.00" height="33.5" fill="#f7a9a7"/>
<rect x="509.00" y="567.4" width="1.00" height="33.1" fill="#f7a9a7"/>
<rect x="510.00" y="566.4" width="1.00" height="34.1" fill="#f7a9a7"/>
<rect x="511.00" y="565.0" width="1.00" height="35.5" fill="#f7a9a7"/>
<rect x="512.00" y="568.1" width="1.00" height="32.4" fill="#92d2cc"/>
<rect x="513.00" y="569.8" width="1.00" height="30.7" fill="#f7a9a7"/>
<rect x="514.00" y="565.4" width="1.00" height="35.1" fill="#92d2cc"/>
<rect x="515.00" y="556.4" width="1.00" height="44.1" fill="#92d2cc"/>
<rect x="516.00" y="556.7" width="1.00" height="43.8" fill="#92d2cc"/>
<rect x="517.00" y="558.5" width="1.00" height="42.0" fill="#f7a9a7"/>
<rect x="518.00" y="547.6" width="1.00" height="52.9" fill="#f7a9a7"/>
<rect x="519.00" y="580.5" width="1.00" height="20.0" fill="#f7a9a7"/>
<rect x="520.00" y="562.6" width="1.00" height="37.9" fill="#92d2cc"/>
<rect x="521.00" y="564.2" width="1.00" height="36.3" fill="#f7a9a7"/>
<rect x="522.00" y="572.5" width="1.00" height="28.0" fill="#92d2cc"/>
<rect x="523.00" y="568.9" width="1.00" height="31.6" fill="#f7a9a7"/>
<rect x="524.00" y="568.4" width="1.00" height="32.1" fill="#f7a9a7"/>
<rect x="525.00" y="567.2" width="1.00" height="33.3" fill="#f7a9a7"/>
<rect x="526.00" y="574.2" width="1.00" height="26.3" fill="#92d2cc"/>
<rect x="527.00" y="563.3" width="1.00" height="37.2" fill="#92d2cc"/>
<rect x="528.00" y="571.0" width="1.00" height="29.5" fill="#92d2cc"/>
<rect x="529.00" y="570.5" width="1.00" height="30.0" fill="#92d2cc"/>
<rect x="530.00" y="570.7" width="1.00" height="29.8" fill="#92d2cc"/>
<rect x="531.00" y="580.6" width="1.00" height="19.9" fill="#92d2cc"/>
<rect x="532.00" y="566.3" width="1.00" height="34.2" fill="#92d2cc"/>
<rect x="533.00" y="576.0" width="1.00" height="24.5" fill="#f7a9a7"/>
<rect x="534.00" y="571.5" width="1.00" height="29.0" fill="#92d2cc"/>
<rect x="535.00" y="581.4" width="1.00" height="19.1" fill="#92d2cc"/>
<rect x="536.00" y="579.1" width="1.00" height="21.4" fill="#92d2cc"/>
<rect x="537.00" y="570.3" width="1.00" height="30.2" fill="#f7a9a7"/>
<rect x="538.00" y="571.7" width="1.00" height="28.8" fill="#92d2cc"/>
<rect x="539.00" y="574.0" width="1.00" height="26.5" fill="#f7a9a7"/>
<rect x="540.00" y="584.4" width="1.00" height="16.1" fill="#92d2cc"/>
<rect x="541.00" y="577.7" width="1.00" height="22.8" fill="#92d2cc"/>
<rect x="542.00" y="575.6" width="1.00" height="24.9" fill="#f7a9a7"/>
<rect x="543.00" y="577.8" width="1.00" height="22.7" fill="#f7a9a7"/>
<rect x="544.00" y="579.9" width="1.00" height="20.6" fill="#92d2cc"/>
<rect x="545.00" y="577.4" width="1.00" height="23.1" fill="#f7a9a7"/>
<rect x="546.00" y="569.8" width="1.00" height="30.7" fill="#f7a9a7"/>
<rect x="547.00" y="574.6" width="1.00" height="25.9" fill="#f7a9a7"/>
<rect x="548.00" y="577.0" width="1.00" height="23.5" fill="#f7a9a7"/>
<rect x="549.00" y="571.0" width="1.00" height="29.5" fill="#92d2cc"/>
<rect x="550.00" y="576.1" width="1.00" height="24.4" fill="#f7a9a7"/>
<rect x="551.00" y="573.4" width="1.00" height="27.1" fill="#f7a9a7"/>
<rect x="552.00" y="561.6" width="1.00" height="38.9" fill="#f7a9a7"/>
<rect x="553.00" y="563.9" width="1.00" height="36.6" fill="#f7a9a7"/>
<rect x="554.00" y="570.1" width="1.00" height="30.4" fill="#f7a9a7"/>
<rect x="555.00" y="573.8" width="1.00" height="26.7" fill="#92d2cc"/>
<rect x="556.00" y="565.2" width="1.00" height="35.3" fill="#f7a9a7"/>
<rect x="557.00" y="560.8" width="1.00" height="39.7" fill="#92d2cc"/>
<rect x="558.00" y="569.7" width="1.00" height="30.8" fill="#f7a9a7"/>
<rect x="559.00" y="567.6" width="1.00" height="32.9" fill="#92d2cc"/>
<rect x="560.00" y="571.3" width="1.00" height="29.2" fill="#92d2cc"/>
<rect x="561.00" y="584.0" width="1.00" height="16.5" fill="#f7a9a7"/>
<rect x="562.00" y="552.8" width="1.00" height="47.7" fill="#92d2cc"/>
<rect x="563.00" y="558.5" width="1.00" height="42.0" fill="#92d2cc"/>
<rect x="564.00" y="556.2" width="1.00" height="44.3" fill="#92d2cc"/>
<rect x="565.00" y="555.5" width="1.00" height="45.0" fill="#92d2cc"/>
<rect x="566.00" y="557.1" width="1.00" height="43.4" fill="#92d2cc"/>
<rect x="567.00" y="554.1" width="1.00" height="46.4" fill="#f7a9a7"/>
<rect x="568.00" y="569.3" width="1.00" height="31.2" fill="#92d2cc"/>
<rect x="569.00" y="562.2" width="1.00" height="38.3" fill="#f7a9a7"/>
<rect x="570.00" y="556.1" width="1.00" height="44.4" fill="#f7a9a7"/>
<rect x="571.00" y="545.7" width="1.00" height="54.8" fill="#f7a9a7"/>
<rect x="572.00" y="557.6" width="1.00" height="42.9" fill="#92d2cc"/>
<rect x="573.00" y="547.6" width="1.00" height="52.9" fill="#92d2cc"/>
<rect x="574.00" y="552.6" width="1.00" height="47.9" fill="#f7a9a7"/>
<rect x="575.00" y="550.5" width="1.00" height="50.0" fill="#92d2cc"/>
<rect x="576.00" y="552.3" width="1.00" height="48.2" fill="#f7a9a7"/>
<rect x="577.00" y="551.0" width="1.00" height="49.5" fill="#f7a9a7"/>
<rect x="578.00" y="562.3" width="1.00" height="38.2" fill="#f7a9a7"/>
<rect x="579.00" y="552.1" width="1.00" height="48.4" fill="#92d2cc"/>
<rect x="580.00" y="559.3" width="1.00" height="41.2" fill="#f7a9a7"/>
<rect x="581.00" y="563.1" width="1.00" height="37.4" fill="#92d2cc"/>
<rect x="582.00" y="568.9" width="1.00" height="31.6" fill="#92d2cc"/>
<rect x="583.00" y="574.0" width="1.00" height="26.5" fill="#92d2cc"/>
<rect x="584.00" y="570.2" width="1.00" height="30.3" fill="#f7a9a7"/>
<rect x="585.00" y="568.0" width="1.00" height="32.5" fill="#f7a9a7"/>
<rect x="586.00" y="559.2" width="1.00" height="41.3" fill="#f7a9a7"/>
<rect x="587.00" y="569.8" width="1.00" height="30.7" fill="#f7a9a7"/>
<rect x="588.00" y="564.3" width="1.00" height="36.2" fill="#92d2cc"/>
<rect x="589.00" y="585.8" width="1.00" height="14.7" fill="#92d2cc"/>
<rect x="590.00" y="567.1" width="1.00" height="33.4" fill="#f7a9a7"/>
<rect x="591.00" y="570.1" width="1.00" height="30.4" fill="#92d2cc"/>
<rect x="592.00" y="564.6" width="1.00" height="35.9" fill="#92d2cc"/>
<rect x="593.00" y="558.7" width="1.00" height="41.8" fill="#92d2cc"/>
<rect x="594.00" y="566.1" width="1.00" height="34.4" fill="#f7a9a7"/>
<rect x="595.00" y="565.4" width="1.00" height="35.1" fill="#f7a9a7"/>
<rect x="596.00" y="561.3" width="1.00" height="39.2" fill="#f7a9a7"/>
<rect x="597.00" y="563.7" width="1.00" height="36.8" fill="#92d2cc"/>
<rect x="598.00" y="580.3" width="1.00" height="20.2" fill="#92d2cc"/>
<rect x="599.00" y="564.6" width="1.00" height="35.9" fill="#f7a9a7"/>
<rect x="600.00" y="559.4" width="1.00" height="41.1" fill="#92d2cc"/>
<rect x="601.00" y="580.5" width="1.00" height="20.0" fill="#f7a9a7"/>
<rect x="602.00" y="566.9" width="1.00" height="33.6" fill="#f7a9a7"/>
<rect x="603.00" y="572.8" width="1.00" height="27.7" fill="#f7a9a7"/>
<rect x="604.00" y="584.7" width="1.00" height="15.8" fill="#92d2cc"/>
<rect x="605.00" y="574.6" width="1.00" height="25.9" fill="#f7a9a7"/>
<rect x="606.00" y="569.5" width="1.00" height="31.0" fill="#f7a9a7"/>
<rect x="607.00" y="576.1" width="1.00" height="24.4" fill="#f7a9a7"/>
<rect x="608.00" y="569.7" width="1.00" height="30.8" fill="#92d2cc"/>
<rect x="609.00" y="571.5" width="1.00" height="29.0" fill="#f7a9a7"/>
<rect x="610.00" y="571.1" width="1.00" height="29.4" fill="#f7a9a7"/>
<rect x="611.00" y="578.1" width="1.00" height="22.4" fill="#92d2cc"/>
<rect x="612.00" y="581.0" width="1.00" height="19.5" fill="#f7a9a7"/>
<rect x="613.00" y="580.1" width="1.00" height="20.4" fill="#92d2cc"/>
<rect x="614.00" y="580.5" width="1.00" height="20.0" fill="#f7a9a7"/>
<rect x="615.00" y="577.3" width="1.00" height="23.2" fill="#92d2cc"/>
<rect x="616.00" y="583.4" width="1.00" height="17.1" fill="#f7a9a7"/>
<rect x="617.00" y="582.0" width="1.00" height="18.5" fill="#f7a9a7"/>
<rect x="618.00" y="585.7" width="1.00" height="14.8" fill="#f7a9a7"/>
<rect x="619.00" y="584.0" width="1.00" height="16.5" fill="#f7a9a7"/>
<rect x="620.00" y="591.8" width="1.00" height="8.7" fill="#92d2cc"/>
<rect x="621.00" y="589.1" width="1.00" height="11.4" fill="#f7a9a7"/>
<rect x="622.00" y="590.1" width="1.00" height="10.4" fill="#f7a9a7"/>
<rect x="623.00" y="589.5" width="1.00" height="11.0" fill="#92d2cc"/>
<rect x="624.00" y="590.3" width="1.00" height="10.2" fill="#f7a9a7"/>
<rect x="625.00" y="581.5" width="1.00" height="19.0" fill="#f7a9a7"/>
<rect x="626.00" y="574.9" width="1.00" height="25.6" fill="#f7a9a7"/>
<rect x="627.00" y="569.5" width="1.00" height="31.0" fill="#92d2cc"/>
<rect x="628.00" y="580.5" width="1.00" height="20.0" fill="#92d2cc"/>
<rect x="629.00" y="579.4" width="1.00" height="21.1" fill="#92d2cc"/>
<rect x="630.00" y="589.8" width="1.00" height="10.7" fill="#92d2cc"/>
<rect x="631.00" y="580.2" width="1.00" height="20.3" fill="#92d2cc"/>
<rect x="632.00" y="590.1" width="1.00" height="10.4" fill="#92d2cc"/>
<rect x="633.00" y="582.1" width="1.00" height="18.4" fill="#92d2cc"/>
<rect x="634.00" y="587.1" width="1.00" height="13.4" fill="#f7a9a7"/>
<rect x="635.00" y="580.5" width="1.00" height="20.0" fill="#92d2cc"/>
<rect x="636.00" y="582.2" width="1.00" height="18.3" fill="#f7a9a7"/>
<rect x="637.00" y="590.8" width="1.00" height="9.7" fill="#92d2cc"/>
<rect x="638.00" y="581.9" width="1.00" height="18.6" fill="#f7a9a7"/>
<rect x="639.00" y="584.3" width="1.00" height="16.2" fill="#f7a9a7"/>
<rect x="640.00" y="582.3" width="1.00" height="18.2" fill="#f7a9a7"/>
<rect x="641.00" y="582.9" width="1.00" height="17.6" fill="#f7a9a7"/>
<rect x="642.00" y="581.1" width="1.00" height="19.4" fill="#92d2cc"/>
<rect x="643.00" y="590.4" width="1.00" height="10.1" fill="#f7a9a7"/>
<rect x="644.00" y="576.6" width="1.00" height="23.9" fill="#92d2cc"/>
<rect x="645.00" y="579.2" width="1.00" height="21.3" fill="#f7a9a7"/>
<rect x="646.00" y="578.4" width="1.00" height="22.1" fill="#92d2cc"/>
<rect x="647.00" y="572.2" width="1.00" height="28.3" fill="#92d2cc"/>
<rect x="648.00" y="569.1" width="1.00" height="31.4" fill="#f7a9a7"/>
<rect x="649.00" y="572.4" width="1.00" height="28.1" fill="#92d2cc"/>
<rect x="650.00" y="576.0" width="1.00" height="24.5" fill="#92d2cc"/>
<rect x="651.00" y="576.9" width="1.00" height="23.6" fill="#f7a9a7"/>
<rect x="652.00" y="574.8" width="1.00" height="25.7" fill="#f7a9a7"/>
<rect x="653.00" y="576.0" width="1.00" height="24.5" fill="#92d2cc"/>
<rect x="654.00" y="581.5" width="1.00" height="19.0" fill="#f7a9a7"/>
<rect x="655.00" y="573.9" width="1.00" height="26.6" fill="#92d2cc"/>
<rect x="656.00" y="581.8" width="1.00" height="18.7" fill="#f7a9a7"/>
<rect x="657.00" y="582.5" width="1.00" height="18.0" fill="#f7a9a7"/>
<rect x="658.00" y="581.6" width="1.00" height="18.9" fill="#f7a9a7"/>
<rect x="659.00" y="579.9" width="1.00" height="20.6" fill="#92d2cc"/>
<rect x="660.00" y="580.6" width="1.00" height="19.9" fill="#f7a9a7"/>
<rect x="661.00" y="583.8" width="1.00" height="16.7" fill="#f7a9a7"/>
<rect x="662.00" y="581.8" width="1.00" height="18.7" fill="#92d2cc"/>
<rect x="663.00" y="583.9" width="1.00" height="16.6" fill="#f7a9a7"/>
<rect x="664.00" y="584.5" width="1.00" height="16.0" fill="#92d2cc"/>
<rect x="665.00" y="582.5" width="1.00" height="18.0" fill="#92d2cc"/>
<rect x="666.00" y="582.2" width="1.00" height="18.3" fill="#f7a9a7"/>
<rect x="667.00" y="578.1" width="1.00" height="22.4" fill="#f7a9a7"/>
<rect x="668.00" y="583.8" width="1.00" height="16.7" fill="#f7a9a7"/>
<rect x="669.00" y="588.2" width="1.00" height="12.3" fill="#92d2cc"/>
<rect x="670.00" y="589.4" width="1.00" height="11.1" fill="#92d2cc"/>
<rect x="671.00" y="576.2" width="1.00" height="24.3" fill="#f7a9a7"/>
<rect x="672.00" y="575.8" width="1.00" height="24.7" fill="#f7a9a7"/>
<rect x="673.00" y="579.2" width="1.00" height="21.3" fill="#f7a9a7"/>
<rect x="674.00" y="580.9" width="1.00" height="19.6" fill="#f7a9a7"/>
<rect x="675.00" y="579.6" width="1.00" height="20.9" fill="#f7a9a7"/>
<rect x="676.00" y="579.1" width="1.00" height="21.4" fill="#f7a9a7"/>
<rect x="677.00" y="591.5" width="1.00" height="9.0" fill="#92d2cc"/>
<rect x="678.00" y="577.8" width="1.00" height="22.7" fill="#92d2cc"/>
<rect x="679.00" y="581.4" width="1.00" height="19.1" fill="#92d2cc"/>
<rect x="680.00" y="579.1" width="1.00" height="21.4" fill="#92d2cc"/>
<rect x="681.00" y="579.0" width="1.00" height="21.5" fill="#92d2cc"/>
<rect x="682.00" y="584.1" width="1.00" height="16.4" fill="#f7a9a7"/>
<rect x="683.00" y="590.5" width="1.00" height="10.0" fill="#92d2cc"/>
<rect x="684.00" y="579.9" width="1.00" height="20.6" fill="#92d2cc"/>
<rect x="685.00" y="581.9" width="1.00" height="18.6" fill="#92d2cc"/>
<rect x="686.00" y="574.9" width="1.00" height="25.6" fill="#92d2cc"/>
<rect x="687.00" y="576.5" width="1.00" height="24.0" fill="#92d2cc"/>
<rect x="688.00" y="575.9" width="1.00" height="24.6" fill="#f7a9a7"/>
<rect x="689.00" y="568.7" width="1.00" height="31.8" fill="#92d2cc"/>
<rect x="690.00" y="558.9" width="1.00" height="41.6" fill="#92d2cc"/>
<rect x="691.00" y="559.9" width="1.00" height="40.6" fill="#f7a9a7"/>
<rect x="692.00" y="568.5" width="1.00" height="32.0" fill="#92d2cc"/>
<rect x="693.00" y="556.5" width="1.00" height="44.0" fill="#f7a9a7"/>
<rect x="694.00" y="566.7" width="1.00" height="33.8" fill="#f7a9a7"/>
<rect x="695.00" y="558.0" width="1.00" height="42.5" fill="#f7a9a7"/>
<rect x="696.00" y="560.2" width="1.00" height="40.3" fill="#f7a9a7"/>
<rect x="697.00" y="562.3" width="1.00" height="38.2" fill="#f7a9a7"/>
<rect x="698.00" y="560.5" width="1.00" height="40.0" fill="#f7a9a7"/>
<rect x="699.00" y="571.0" width="1.00" height="29.5" fill="#92d2cc"/>
<rect x="700.00" y="571.2" width="1.00" height="29.3" fill="#92d2cc"/>
<rect x="701.00" y="584.4" width="1.00" height="16.1" fill="#f7a9a7"/>
<rect x="702.00" y="579.2" width="1.00" height="21.3" fill="#92d2cc"/>
<rect x="703.00" y="577.1" width="1.00" height="23.4" fill="#92d2cc"/>
<rect x="704.00" y="573.0" width="1.00" height="27.5" fill="#92d2cc"/>
<rect x="705.00" y="580.3" width="1.00" height="20.2" fill="#92d2cc"/>
<rect x="706.00" y="579.8" width="1.00" height="20.7" fill="#92d2cc"/>
<rect x="707.00" y="581.7" width="1.00" height="18.8" fill="#92d2cc"/>
<rect x="708.00" y="575.4" width="1.00" height="25.1" fill="#92d2cc"/>
<rect x="709.00" y="576.2" width="1.00" height="24.3" fill="#92d2cc"/>
<rect x="710.00" y="571.1" width="1.00" height="29.4" fill="#92d2cc"/>
<rect x="711.00" y="567.7" width="1.00" height="32.8" fill="#92d2cc"/>
<rect x="712.00" y="561.4" width="1.00" height="39.1" fill="#92d2cc"/>
<rect x="713.00" y="561.7" width="1.00" height="38.8" fill="#f7a9a7"/>
<rect x="714.00" y="569.1" width="1.00" height="31.4" fill="#92d2cc"/>
<rect x="715.00" y="563.7" width="1.00" height="36.8" fill="#92d2cc"/>
<rect x="716.00" y="562.0" width="1.00" height="38.5" fill="#92d2cc"/>
<rect x="717.00" y="583.1" width="1.00" height="17.4" fill="#92d2cc"/>
<rect x="718.00" y="562.4" width="1.00" height="38.1" fill="#92d2cc"/>
<rect x="719.00" y="573.5" width="1.00" height="27.0" fill="#92d2cc"/>
<rect x="720.00" y="570.9" width="1.00" height="29.6" fill="#f7a9a7"/>
<rect x="721.00" y="587.3" width="1.00" height="13.2" fill="#f7a9a7"/>
<rect x="722.00" y="571.5" width="1.00" height="29.0" fill="#f7a9a7"/>
<rect x="723.00" y="576.5" width="1.00" height="24.0" fill="#f7a9a7"/>
<rect x="724.00" y="572.2" width="1.00" height="28.3" fill="#92d2cc"/>
<rect x="725.00" y="577.6" width="1.00" height="22.9" fill="#92d2cc"/>
<rect x="726.00" y="577.7" width="1.00" height="22.8" fill="#92d2cc"/>
<rect x="727.00" y="576.3" width="1.00" height="24.2" fill="#f7a9a7"/>
<rect x="728.00" y="565.3" width="1.00" height="35.2" fill="#92d2cc"/>
<rect x="729.00" y="581.5" width="1.00" height="19.0" fill="#f7a9a7"/>
<rect x="730.00" y="551.8" width="1.00" height="48.7" fill="#92d2cc"/>
<rect x="731.00" y="548.8" width="1.00" height="51.7" fill="#f7a9a7"/>
<rect x="732.00" y="542.3" width="1.00" height="58.2" fill="#92d2cc"/>
<rect x="733.00" y="551.3" width="1.00" height="49.2" fill="#92d2cc"/>
<rect x="734.00" y="551.0" width="1.00" height="49.5" fill="#f7a9a7"/>
<rect x="735.00" y="560.4" width="1.00" height="40.1" fill="#f7a9a7"/>
<rect x="736.00" y="550.7" width="1.00" height="49.8" fill="#f7a9a7"/>
<rect x="737.00" y="571.2" width="1.00" height="29.3" fill="#f7a9a7"/>
<rect x="738.00" y="540.8" width="1.00" height="59.7" fill="#f7a9a7"/>
<rect x="739.00" y="545.5" width="1.00" height="55.0" fill="#f7a9a7"/>
<rect x="740.00" y="553.2" width="1.00" height="47.3" fill="#f7a9a7"/>
<rect x="741.00" y="574.7" width="1.00" height="25.8" fill="#92d2cc"/>
<rect x="742.00" y="542.6" width="1.00" height="57.9" fill="#92d2cc"/>
<rect x="743.00" y="563.4" width="1.00" height="37.1" fill="#92d2cc"/>
<rect x="744.00" y="557.8" width="1.00" height="42.7" fill="#92d2cc"/>
<rect x="745.00" y="567.4" width="1.00" height="33.1" fill="#92d2cc"/>
<rect x="746.00" y="536.6" width="1.00" height="63.9" fill="#f7a9a7"/>
<rect x="747.00" y="544.9" width="1.00" height="55.6" fill="#92d2cc"/>
<rect x="748.00" y="551.2" width="1.00" height="49.3" fill="#92d2cc"/>
<rect x="749.00" y="542.6" width="1.00" height="57.9" fill="#92d2cc"/>
<rect x="750.00" y="531.4" width="1.00" height="69.1" fill="#f7a9a7"/>
<rect x="751.00" y="523.3" width="1.00" height="77.2" fill="#92d2cc"/>
<rect x="752.00" y="541.6" width="1.00" height="58.9" fill="#92d2cc"/>
<rect x="753.00" y="545.5" width="1.00" height="55.0" fill="#f7a9a7"/>
<rect x="754.00" y="554.0" width="1.00" height="46.5" fill="#92d2cc"/>
<rect x="755.00" y="540.8" width="1.00" height="59.7" fill="#f7a9a7"/>
<rect x="756.00" y="573.6" width="1.00" height="26.9" fill="#f7a9a7"/>
<rect x="757.00" y="541.1" width="1.00" height="59.4" fill="#92d2cc"/>
<rect x="758.00" y="541.6" width="1.00" height="58.9" fill="#f7a9a7"/>
<rect x="759.00" y="552.5" width="1.00" height="48.0" fill="#92d2cc"/>
<rect x="760.00" y="552.8" width="1.00" height="47.7" fill="#92d2cc"/>
<rect x="761.00" y="550.4" width="1.00" height="50.1" fill="#92d2cc"/>
<rect x="762.00" y="559.7" width="1.00" height="40.8" fill="#f7a9a7"/>
<rect x="763.00" y="558.6" width="1.00" height="41.9" fill="#f7a9a7"/>
<rect x="764.00" y="540.6" width="1.00" height="59.9" fill="#f7a9a7"/>
<rect x="765.00" y="549.1" width="1.00" height="51.4" fill="#f7a9a7"/>
<rect x="766.00" y="568.3" width="1.00" height="32.2" fill="#f7a9a7"/>
<rect x="767.00" y="562.9" width="1.00" height="37.6" fill="#92d2cc"/>
<rect x="768.00" y="555.8" width="1.00" height="44.7" fill="#f7a9a7"/>
<rect x="769.00" y="545.5" width="1.00" height="55.0" fill="#92d2cc"/>
<rect x="770.00" y="553.4" width="1.00" height="47.1" fill="#92d2cc"/>
<rect x="771.00" y="564.1" width="1.00" height="36.4" fill="#f7a9a7"/>
<rect x="772.00" y="552.7" width="1.00" height="47.8" fill="#92d2cc"/>
<rect x="773.00" y="558.8" width="1.00" height="41.7" fill="#f7a9a7"/>
<rect x="774.00" y="564.7" width="1.00" height="35.8" fill="#92d2cc"/>
<rect x="775.00" y="563.6" width="1.00" height="36.9" fill="#92d2cc"/>
<rect x="776.00" y="563.0" width="1.00" height="37.5" fill="#f7a9a7"/>
<rect x="777.00" y="554.0" width="1.00" height="46.5" fill="#92d2cc"/>
<rect x="778.00" y="564.3" width="1.00" height="36.2" fill="#f7a9a7"/>
<rect x="779.00" y="569.4" width="1.00" height="31.1" fill="#f7a9a7"/>
<rect x="780.00" y="579.6" width="1.00" height="20.9" fill="#92d2cc"/>
<rect x="781.00" y="567.1" width="1.00" height="33.4" fill="#92d2cc"/>
<rect x="782.00" y="569.5" width="1.00" height="31.0" fill="#f7a9a7"/>
<rect x="783.00" y="568.0" width="1.00" height="32.5" fill="#92d2cc"/>
<rect x="784.00" y="582.6" width="1.00" height="17.9" fill="#92d2cc"/>
<rect x="785.00" y="572.4" width="1.00" height="28.1" fill="#92d2cc"/>
<rect x="786.00" y="580.6" width="1.00" height="19.9" fill="#f7a9a7"/>
<rect x="787.00" y="567.4" width="1.00" height="33.1" fill="#f7a9a7"/>
<rect x="788.00" y="569.0" width="1.00" height="31.5" fill="#92d2cc"/>
<rect x="789.00" y="574.0" width="1.00" height="26.5" fill="#92d2cc"/>
<rect x="790.00" y="573.7" width="1.00" height="26.8" fill="#f7a9a7"/>
<rect x="791.00" y="573.7" width="1.00" height="26.8" fill="#92d2cc"/>
<rect x="792.00" y="584.5" width="1.00" height="16.0" fill="#92d2cc"/>
<rect x="793.00" y="567.4" width="1.00" height="33.1" fill="#92d2cc"/>
<rect x="794.00" y="567.9" width="1.00" height="32.6" fill="#f7a9a7"/>
<rect x="795.00" y="562.6" width="1.00" height="37.9" fill="#92d2cc"/>
<rect x="796.00" y="579.1" width="1.00" height="21.4" fill="#f7a9a7"/>
<rect x="797.00" y="559.2" width="1.00" height="41.3" fill="#f7a9a7"/>
<rect x="798.00" y="558.9" width="1.00" height="41.6" fill="#92d2cc"/>
<rect x="799.00" y="563.1" width="1.00" height="37.4" fill="#f7a9a7"/>
<rect x="800.00" y="557.3" width="1.00" height="43.2" fill="#92d2cc"/>
<rect x="801.00" y="557.2" width="1.00" height="43.3" fill="#92d2cc"/>
<rect x="802.00" y="557.5" width="1.00" height="43.0" fill="#f7a9a7"/>
<rect x="803.00" y="560.2" width="1.00" height="40.3" fill="#92d2cc"/>
<rect x="804.00" y="583.2" width="1.00" height="17.3" fill="#f7a9a7"/>
<rect x="805.00" y="590.9" width="1.00" height="9.6" fill="#f7a9a7"/>
<rect x="806.00" y="591.9" width="1.00" height="8.6" fill="#f7a9a7"/>
<rect x="807.00" y="595.5" width="1.00" height="5.0" fill="#92d2cc"/>
<rect x="808.00" y="593.7" width="1.00" height="6.8" fill="#f7a9a7"/>
<rect x="809.00" y="592.7" width="1.00" height="7.8" fill="#f7a9a7"/>
<rect x="810.00" y="591.1" width="1.00" height="9.4" fill="#f7a9a7"/>
<rect x="811.00" y="592.3" width="1.00" height="8.2" fill="#92d2cc"/>
<rect x="812.00" y="591.1" width="1.00" height="9.4" fill="#92d2cc"/>
<rect x="813.00" y="577.8" width="1.00" height="22.7" fill="#f7a9a7"/>
<rect x="814.00" y="578.8" width="1.00" height="21.7" fill="#f7a9a7"/>
<rect x="815.00" y="577.1" width="1.00" height="23.4" fill="#f7a9a7"/>
<rect x="816.00" y="570.6" width="1.00" height="29.9" fill="#92d2cc"/>
<rect x="817.00" y="575.2" width="1.00" height="25.3" fill="#f7a9a7"/>
<rect x="818.00" y="561.9" width="1.00" height="38.6" fill="#92d2cc"/>
<rect x="819.00" y="567.7" width="1.00" height="32.8" fill="#92d2cc"/>
<rect x="820.00" y="564.1" width="1.00" height="36.4" fill="#92d2cc"/>
<rect x="821.00" y="559.2" width="1.00" height="41.3" fill="#92d2cc"/>
<rect x="822.00" y="548.8" width="1.00" height="51.7" fill="#92d2cc"/>
<rect x="823.00" y="543.5" width="1.00" height="57.0" fill="#92d2cc"/>
<rect x="824.00" y="513.7" width="1.00" height="86.8" fill="#f7a9a7"/>
<rect x="825.00" y="545.2" width="1.00" height="55.3" fill="#92d2cc"/>
<rect x="826.00" y="558.6" width="1.00" height="41.9" fill="#f7a9a7"/>
<rect x="827.00" y="525.2" width="1.00" height="75.3" fill="#f7a9a7"/>
<rect x="828.00" y="547.8" width="1.00" height="52.7" fill="#92d2cc"/>
<rect x="14.10" y="517.0" width="1" height="83.5" fill="#92d2cc"/>
<rect x="52.00" y="508.0" width="1" height="92.5" fill="#92d2cc"/>
<rect x="77.90" y="558.0" width="1" height="42.5" fill="#92d2cc"/>
<rect x="90.00" y="517.0" width="1" height="83.5" fill="#f7a9a7"/>
<rect x="131.10" y="565.0" width="1" height="35.5" fill="#92d2cc"/>
<rect x="146.80" y="544.0" width="1" height="56.5" fill="#f7a9a7"/>
<rect x="171.90" y="545.0" width="1" height="55.5" fill="#f7a9a7"/>
<rect x="189.20" y="544.0" width="1" height="56.5" fill="#92d2cc"/>
<rect x="199.00" y="533.0" width="1" height="67.5" fill="#92d2cc"/>
<rect x="217.00" y="547.0" width="1" height="53.5" fill="#f7a9a7"/>
<rect x="278.80" y="551.0" width="1" height="49.5" fill="#f7a9a7"/>
<rect x="327.90" y="526.0" width="1" height="74.5" fill="#92d2cc"/>
<rect x="329.90" y="535.0" width="1" height="65.5" fill="#f7a9a7"/>
<rect x="353.80" y="558.0" width="1" height="42.5" fill="#92d2cc"/>
<rect x="403.20" y="529.0" width="1" height="71.5" fill="#92d2cc"/>
<rect x="406.50" y="530.0" width="1" height="70.5" fill="#f7a9a7"/>
<rect x="421.50" y="549.0" width="1" height="51.5" fill="#92d2cc"/>
<rect x="438.00" y="545.0" width="1" height="55.5" fill="#92d2cc"/>
<rect x="460.50" y="541.0" width="1" height="59.5" fill="#92d2cc"/>
<rect x="573.50" y="535.0" width="1" height="65.5" fill="#f7a9a7"/>
<rect x="568.50" y="538.0" width="1" height="62.5" fill="#f7a9a7"/>
<rect x="626.50" y="559.0" width="1" height="41.5" fill="#f7a9a7"/>
<rect x="696.50" y="550.0" width="1" height="50.5" fill="#f7a9a7"/>
<rect x="710.50" y="522.0" width="1" height="78.5" fill="#92d2cc"/>
<rect x="747.30" y="518.0" width="1" height="82.5" fill="#92d2cc"/>
<rect x="794.70" y="438.0" width="1" height="162.5" fill="#92d2cc"/>
<rect x="795.50" y="485.0" width="1" height="115.5" fill="#f7a9a7"/>
<rect x="822.90" y="484.0" width="1" height="116.5" fill="#92d2cc"/>
<rect x="824.50" y="518.0" width="1" height="82.5" fill="#f7a9a7"/>

<rect x="861" y="42.0" width="176.5" height="301.7" fill="rgba(8,153,129,0.2)"/>
<rect x="861" y="343.7" width="176.5" height="153.90000000000003" fill="rgba(242,54,69,0.2)"/>
<rect x="861" y="41.5" width="176.5" height="1.2" fill="rgba(8,153,129,0.25)"/>
<rect x="861" y="496.6" width="176.5" height="1.2" fill="rgba(242,54,69,0.25)"/>
<rect x="861" y="342.8" width="176.5" height="1.5" fill="#8a8c8c"/>

<line x1="12.75" y1="182.5" x2="1111" y2="182.5" stroke="#089981" stroke-width="1.2" stroke-dasharray="1.3 2.55"/>
<g opacity="0.85"><rect x="267.60" y="637.0" width="0.8" height="7.2" fill="#089981"/>
<rect x="267.50" y="639.6" width="1" height="1.0" fill="#089981"/>
<rect x="268.95" y="628.9" width="0.8" height="13.5" fill="#089981"/>
<rect x="268.85" y="631.3" width="1" height="8.3" fill="#089981"/>
<rect x="270.30" y="618.2" width="0.8" height="16.1" fill="#089981"/>
<rect x="270.20" y="620.6" width="1" height="10.7" fill="#089981"/>
<rect x="271.65" y="616.5" width="0.8" height="5.7" fill="#089981"/>
<rect x="271.55" y="617.2" width="1" height="3.4" fill="#089981"/>
<rect x="273.00" y="604.5" width="0.8" height="15.9" fill="#089981"/>
<rect x="272.90" y="608.2" width="1" height="9.0" fill="#089981"/>
<rect x="274.35" y="600.0" width="0.8" height="12.5" fill="#089981"/>
<rect x="274.25" y="604.5" width="1" height="3.8" fill="#089981"/>
<rect x="275.70" y="601.6" width="0.8" height="5.4" fill="#f23645"/>
<rect x="275.60" y="604.5" width="1" height="1.6" fill="#f23645"/>
<rect x="277.05" y="595.7" width="0.8" height="10.9" fill="#089981"/>
<rect x="276.95" y="598.2" width="1" height="7.8" fill="#089981"/>
<rect x="278.40" y="595.6" width="0.8" height="3.0" fill="#089981"/>
<rect x="278.30" y="596.9" width="1" height="1.3" fill="#089981"/>
<rect x="279.75" y="594.8" width="0.8" height="6.2" fill="#f23645"/>
<rect x="279.65" y="596.9" width="1" height="1.0" fill="#f23645"/>
<rect x="281.10" y="594.2" width="0.8" height="9.9" fill="#f23645"/>
<rect x="281.00" y="597.2" width="1" height="4.5" fill="#f23645"/>
<rect x="282.45" y="599.4" width="0.8" height="8.9" fill="#f23645"/>
<rect x="282.35" y="601.7" width="1" height="5.2" fill="#f23645"/>
<rect x="283.80" y="602.4" width="0.8" height="13.6" fill="#f23645"/>
<rect x="283.70" y="606.8" width="1" height="5.3" fill="#f23645"/>
<rect x="285.15" y="610.5" width="0.8" height="3.0" fill="#f23645"/>
<rect x="285.05" y="612.1" width="1" height="1.0" fill="#f23645"/>
<rect x="286.50" y="610.7" width="0.8" height="5.0" fill="#089981"/>
<rect x="286.40" y="611.3" width="1" height="1.0" fill="#089981"/>
<rect x="287.85" y="607.5" width="0.8" height="8.8" fill="#f23645"/>
<rect x="287.75" y="611.3" width="1" height="3.0" fill="#f23645"/>
<rect x="289.20" y="610.5" width="0.8" height="9.2" fill="#f23645"/>
<rect x="289.10" y="614.3" width="1" height="5.0" fill="#f23645"/>
<rect x="290.55" y="609.8" width="0.8" height="11.8" fill="#089981"/>
<rect x="290.45" y="613.9" width="1" height="5.4" fill="#089981"/>
<rect x="291.90" y="612.0" width="0.8" height="9.3" fill="#f23645"/>
<rect x="291.80" y="613.9" width="1" height="6.7" fill="#f23645"/>
<rect x="293.25" y="614.9" width="0.8" height="7.2" fill="#089981"/>
<rect x="293.15" y="618.5" width="1" height="2.2" fill="#089981"/>
<rect x="294.60" y="613.0" width="0.8" height="9.8" fill="#089981"/>
<rect x="294.50" y="614.7" width="1" height="3.8" fill="#089981"/>
<rect x="295.95" y="613.9" width="0.8" height="5.9" fill="#f23645"/>
<rect x="295.85" y="614.7" width="1" height="3.7" fill="#f23645"/>
<rect x="297.30" y="611.0" width="0.8" height="11.1" fill="#089981"/>
<rect x="297.20" y="611.6" width="1" height="6.9" fill="#089981"/>
<rect x="298.65" y="607.9" width="0.8" height="5.8" fill="#089981"/>
<rect x="298.55" y="610.6" width="1" height="1.0" fill="#089981"/>
<rect x="300.00" y="605.4" width="0.8" height="6.0" fill="#089981"/>
<rect x="299.90" y="608.8" width="1" height="1.8" fill="#089981"/>
<rect x="301.35" y="608.0" width="0.8" height="4.1" fill="#f23645"/>
<rect x="301.25" y="608.8" width="1" height="1.2" fill="#f23645"/>
<rect x="302.70" y="602.7" width="0.8" height="11.7" fill="#089981"/>
<rect x="302.60" y="604.1" width="1" height="5.9" fill="#089981"/>
<rect x="304.05" y="602.5" width="0.8" height="7.9" fill="#f23645"/>
<rect x="303.95" y="604.1" width="1" height="2.3" fill="#f23645"/>
<rect x="305.40" y="597.3" width="0.8" height="13.0" fill="#089981"/>
<rect x="305.30" y="599.3" width="1" height="7.1" fill="#089981"/>
<rect x="306.75" y="598.6" width="0.8" height="6.3" fill="#f23645"/>
<rect x="306.65" y="599.3" width="1" height="1.1" fill="#f23645"/>
<rect x="308.10" y="593.2" width="0.8" height="10.7" fill="#089981"/>
<rect x="308.00" y="594.6" width="1" height="5.8" fill="#089981"/>
<rect x="309.45" y="592.4" width="0.8" height="2.7" fill="#089981"/>
<rect x="309.35" y="594.0" width="1" height="1.0" fill="#089981"/>
<rect x="310.80" y="588.3" width="0.8" height="7.0" fill="#089981"/>
<rect x="310.70" y="591.1" width="1" height="2.9" fill="#089981"/>
<rect x="312.15" y="589.2" width="0.8" height="7.1" fill="#f23645"/>
<rect x="312.05" y="591.1" width="1" height="3.1" fill="#f23645"/>
<rect x="313.50" y="591.8" width="0.8" height="6.9" fill="#f23645"/>
<rect x="313.40" y="594.1" width="1" height="1.9" fill="#f23645"/>
<rect x="314.85" y="593.2" width="0.8" height="3.8" fill="#089981"/>
<rect x="314.75" y="594.2" width="1" height="1.8" fill="#089981"/>
<rect x="316.20" y="589.8" width="0.8" height="5.8" fill="#089981"/>
<rect x="316.10" y="593.6" width="1" height="1.0" fill="#089981"/>
<rect x="317.55" y="583.5" width="0.8" height="14.3" fill="#089981"/>
<rect x="317.45" y="586.9" width="1" height="6.7" fill="#089981"/>
<rect x="318.90" y="581.7" width="0.8" height="9.1" fill="#089981"/>
<rect x="318.80" y="586.0" width="1" height="1.0" fill="#089981"/>
<rect x="320.25" y="584.0" width="0.8" height="6.9" fill="#f23645"/>
<rect x="320.15" y="586.0" width="1" height="4.1" fill="#f23645"/>
<rect x="321.60" y="584.0" width="0.8" height="7.5" fill="#089981"/>
<rect x="321.50" y="588.3" width="1" height="1.8" fill="#089981"/>
<rect x="322.95" y="586.9" width="0.8" height="13.2" fill="#f23645"/>
<rect x="322.85" y="588.3" width="1" height="8.0" fill="#f23645"/>
<rect x="324.30" y="594.8" width="0.8" height="4.4" fill="#f23645"/>
<rect x="324.20" y="596.3" width="1" height="1.8" fill="#f23645"/>
<rect x="325.65" y="597.6" width="0.8" height="5.6" fill="#f23645"/>
<rect x="325.55" y="598.2" width="1" height="3.7" fill="#f23645"/>
<rect x="327.00" y="598.0" width="0.8" height="8.8" fill="#f23645"/>
<rect x="326.90" y="601.9" width="1" height="2.1" fill="#f23645"/>
<rect x="328.35" y="599.8" width="0.8" height="6.5" fill="#f23645"/>
<rect x="328.25" y="604.0" width="1" height="1.1" fill="#f23645"/>
<rect x="329.70" y="603.7" width="0.8" height="4.5" fill="#f23645"/>
<rect x="329.60" y="605.1" width="1" height="1.0" fill="#f23645"/>
<rect x="331.05" y="604.3" width="0.8" height="3.6" fill="#089981"/>
<rect x="330.95" y="605.3" width="1" height="1.0" fill="#089981"/>
<rect x="332.40" y="604.5" width="0.8" height="5.7" fill="#f23645"/>
<rect x="332.30" y="605.3" width="1" height="3.0" fill="#f23645"/>
<rect x="333.75" y="603.9" width="0.8" height="8.9" fill="#f23645"/>
<rect x="333.65" y="608.3" width="1" height="1.5" fill="#f23645"/>
<rect x="335.10" y="603.7" width="0.8" height="7.0" fill="#089981"/>
<rect x="335.00" y="606.4" width="1" height="3.4" fill="#089981"/>
<rect x="336.45" y="597.7" width="0.8" height="12.8" fill="#089981"/>
<rect x="336.35" y="598.1" width="1" height="8.3" fill="#089981"/>
<rect x="337.80" y="593.8" width="0.8" height="7.0" fill="#f23645"/>
<rect x="337.70" y="598.1" width="1" height="2.3" fill="#f23645"/>
<rect x="339.15" y="597.0" width="0.8" height="6.7" fill="#089981"/>
<rect x="339.05" y="599.4" width="1" height="1.0" fill="#089981"/>
<rect x="340.50" y="594.9" width="0.8" height="5.7" fill="#f23645"/>
<rect x="340.40" y="599.4" width="1" height="1.0" fill="#f23645"/>
<rect x="341.85" y="596.6" width="0.8" height="12.3" fill="#f23645"/>
<rect x="341.75" y="600.0" width="1" height="4.8" fill="#f23645"/>
<rect x="343.20" y="601.5" width="0.8" height="10.6" fill="#f23645"/>
<rect x="343.10" y="604.8" width="1" height="3.7" fill="#f23645"/>
<rect x="344.55" y="606.7" width="0.8" height="8.5" fill="#f23645"/>
<rect x="344.45" y="608.5" width="1" height="3.6" fill="#f23645"/>
<rect x="345.90" y="608.1" width="0.8" height="8.1" fill="#f23645"/>
<rect x="345.80" y="612.0" width="1" height="2.0" fill="#f23645"/>
<rect x="347.25" y="610.1" width="0.8" height="6.7" fill="#089981"/>
<rect x="347.15" y="614.1" width="1" height="1.0" fill="#089981"/>
<rect x="348.60" y="610.3" width="0.8" height="6.5" fill="#089981"/>
<rect x="348.50" y="612.2" width="1" height="1.9" fill="#089981"/>
<rect x="349.95" y="610.9" width="0.8" height="4.3" fill="#089981"/>
<rect x="349.85" y="611.5" width="1" height="1.0" fill="#089981"/>
<rect x="351.30" y="607.5" width="0.8" height="9.9" fill="#f23645"/>
<rect x="351.20" y="611.5" width="1" height="2.5" fill="#f23645"/>
<rect x="352.65" y="604.1" width="0.8" height="12.7" fill="#089981"/>
<rect x="352.55" y="607.5" width="1" height="6.5" fill="#089981"/>
<rect x="354.00" y="602.1" width="0.8" height="6.1" fill="#089981"/>
<rect x="353.90" y="605.9" width="1" height="1.6" fill="#089981"/>
<rect x="355.35" y="605.5" width="0.8" height="3.7" fill="#f23645"/>
<rect x="355.25" y="605.9" width="1" height="1.0" fill="#f23645"/>
<rect x="356.70" y="600.4" width="0.8" height="9.2" fill="#089981"/>
<rect x="356.60" y="601.6" width="1" height="4.7" fill="#089981"/>
<rect x="358.05" y="596.2" width="0.8" height="9.6" fill="#089981"/>
<rect x="357.95" y="599.1" width="1" height="2.6" fill="#089981"/>
<rect x="359.40" y="593.6" width="0.8" height="7.1" fill="#089981"/>
<rect x="359.30" y="593.9" width="1" height="5.2" fill="#089981"/>
<rect x="360.75" y="592.5" width="0.8" height="2.4" fill="#089981"/>
<rect x="360.65" y="593.7" width="1" height="1.0" fill="#089981"/>
<rect x="362.10" y="587.8" width="0.8" height="8.0" fill="#089981"/>
<rect x="362.00" y="590.9" width="1" height="2.8" fill="#089981"/>
<rect x="363.45" y="582.8" width="0.8" height="11.2" fill="#089981"/>
<rect x="363.35" y="584.5" width="1" height="6.4" fill="#089981"/>
<rect x="364.80" y="569.9" width="0.8" height="18.2" fill="#089981"/>
<rect x="364.70" y="572.1" width="1" height="12.4" fill="#089981"/>
<rect x="366.15" y="563.4" width="0.8" height="10.5" fill="#089981"/>
<rect x="366.05" y="567.4" width="1" height="4.6" fill="#089981"/>
<rect x="367.50" y="551.0" width="0.8" height="17.3" fill="#089981"/>
<rect x="367.40" y="554.4" width="1" height="13.0" fill="#089981"/>
<rect x="368.85" y="550.6" width="0.8" height="8.3" fill="#f23645"/>
<rect x="368.75" y="554.4" width="1" height="1.0" fill="#f23645"/>
<rect x="370.20" y="550.8" width="0.8" height="9.7" fill="#f23645"/>
<rect x="370.10" y="555.1" width="1" height="4.0" fill="#f23645"/>
<rect x="371.55" y="556.8" width="0.8" height="3.8" fill="#f23645"/>
<rect x="371.45" y="559.0" width="1" height="1.0" fill="#f23645"/>
<rect x="372.90" y="557.1" width="0.8" height="11.3" fill="#f23645"/>
<rect x="372.80" y="559.2" width="1" height="6.4" fill="#f23645"/>
<rect x="374.25" y="563.9" width="0.8" height="15.8" fill="#f23645"/>
<rect x="374.15" y="565.5" width="1" height="10.3" fill="#f23645"/>
<rect x="375.60" y="573.7" width="0.8" height="18.8" fill="#f23645"/>
<rect x="375.50" y="575.9" width="1" height="16.0" fill="#f23645"/>
<rect x="376.95" y="587.9" width="0.8" height="5.4" fill="#f23645"/>
<rect x="376.85" y="591.9" width="1" height="1.0" fill="#f23645"/>
<rect x="378.30" y="590.2" width="0.8" height="4.3" fill="#f23645"/>
<rect x="378.20" y="592.9" width="1" height="1.0" fill="#f23645"/>
<rect x="379.65" y="587.7" width="0.8" height="6.0" fill="#089981"/>
<rect x="379.55" y="588.1" width="1" height="4.8" fill="#089981"/>
<rect x="381.00" y="578.7" width="0.8" height="13.2" fill="#089981"/>
<rect x="380.90" y="579.1" width="1" height="9.0" fill="#089981"/>
<rect x="382.35" y="570.2" width="0.8" height="9.4" fill="#089981"/>
<rect x="382.25" y="571.1" width="1" height="8.0" fill="#089981"/>
<rect x="383.70" y="565.7" width="0.8" height="8.3" fill="#089981"/>
<rect x="383.60" y="567.9" width="1" height="3.2" fill="#089981"/>
<rect x="385.05" y="558.1" width="0.8" height="14.1" fill="#089981"/>
<rect x="384.95" y="561.8" width="1" height="6.1" fill="#089981"/>
<rect x="386.40" y="555.7" width="0.8" height="8.4" fill="#089981"/>
<rect x="386.30" y="556.8" width="1" height="5.0" fill="#089981"/>
<rect x="387.75" y="547.9" width="0.8" height="11.2" fill="#089981"/>
<rect x="387.65" y="548.3" width="1" height="8.5" fill="#089981"/>
<rect x="389.10" y="547.0" width="0.8" height="2.7" fill="#089981"/>
<rect x="389.00" y="548.0" width="1" height="1.0" fill="#089981"/>
<rect x="390.45" y="537.4" width="0.8" height="13.2" fill="#089981"/>
<rect x="390.35" y="540.6" width="1" height="7.4" fill="#089981"/>
<rect x="391.80" y="535.9" width="0.8" height="6.6" fill="#089981"/>
<rect x="391.70" y="539.4" width="1" height="1.2" fill="#089981"/>
<rect x="393.15" y="535.3" width="0.8" height="9.6" fill="#f23645"/>
<rect x="393.05" y="539.4" width="1" height="4.8" fill="#f23645"/>
<rect x="394.50" y="539.5" width="0.8" height="5.5" fill="#089981"/>
<rect x="394.40" y="542.9" width="1" height="1.3" fill="#089981"/>
<rect x="395.85" y="529.8" width="0.8" height="17.2" fill="#089981"/>
<rect x="395.75" y="532.8" width="1" height="10.1" fill="#089981"/>
<rect x="397.20" y="519.3" width="0.8" height="17.4" fill="#089981"/>
<rect x="397.10" y="522.0" width="1" height="10.7" fill="#089981"/>
<rect x="398.55" y="515.3" width="0.8" height="9.0" fill="#089981"/>
<rect x="398.45" y="519.5" width="1" height="2.5" fill="#089981"/>
<rect x="399.90" y="512.7" width="0.8" height="10.2" fill="#089981"/>
<rect x="399.80" y="513.9" width="1" height="5.7" fill="#089981"/>
<rect x="401.25" y="506.1" width="0.8" height="11.0" fill="#089981"/>
<rect x="401.15" y="509.1" width="1" height="4.7" fill="#089981"/>
<rect x="402.60" y="480.0" width="0.8" height="33.5" fill="#089981"/>
<rect x="402.50" y="490.0" width="1" height="19.1" fill="#089981"/>
<rect x="403.95" y="487.5" width="0.8" height="15.0" fill="#f23645"/>
<rect x="403.85" y="490.0" width="1" height="8.8" fill="#f23645"/>
<rect x="405.30" y="494.8" width="0.8" height="11.1" fill="#f23645"/>
<rect x="405.20" y="498.9" width="1" height="3.1" fill="#f23645"/>
<rect x="406.65" y="501.3" width="0.8" height="6.0" fill="#f23645"/>
<rect x="406.55" y="502.0" width="1" height="3.2" fill="#f23645"/>
<rect x="408.00" y="500.0" width="0.8" height="28.0" fill="#f23645"/>
<rect x="407.90" y="505.1" width="1" height="11.1" fill="#f23645"/>
<rect x="409.35" y="507.3" width="0.8" height="9.5" fill="#089981"/>
<rect x="409.25" y="511.0" width="1" height="5.2" fill="#089981"/>
<rect x="410.70" y="507.1" width="0.8" height="5.6" fill="#089981"/>
<rect x="410.60" y="508.1" width="1" height="2.9" fill="#089981"/>
<rect x="412.05" y="503.1" width="0.8" height="6.0" fill="#089981"/>
<rect x="411.95" y="504.0" width="1" height="4.1" fill="#089981"/>
<rect x="413.40" y="495.2" width="0.8" height="12.6" fill="#089981"/>
<rect x="413.30" y="498.5" width="1" height="5.4" fill="#089981"/>
<rect x="414.75" y="493.4" width="0.8" height="7.5" fill="#089981"/>
<rect x="414.65" y="497.7" width="1" height="1.0" fill="#089981"/>
<rect x="416.10" y="497.0" width="0.8" height="5.3" fill="#f23645"/>
<rect x="416.00" y="497.7" width="1" height="3.4" fill="#f23645"/>
<rect x="417.45" y="497.5" width="0.8" height="6.9" fill="#089981"/>
<rect x="417.35" y="499.1" width="1" height="2.0" fill="#089981"/>
<rect x="418.80" y="496.6" width="0.8" height="8.0" fill="#f23645"/>
<rect x="418.70" y="499.1" width="1" height="1.6" fill="#f23645"/>
<rect x="420.15" y="495.8" width="0.8" height="6.8" fill="#089981"/>
<rect x="420.05" y="497.4" width="1" height="3.3" fill="#089981"/>
<rect x="421.50" y="492.9" width="0.8" height="5.7" fill="#089981"/>
<rect x="421.40" y="497.0" width="1" height="1.0" fill="#089981"/>
<rect x="422.85" y="488.9" width="0.8" height="10.5" fill="#089981"/>
<rect x="422.75" y="493.3" width="1" height="3.7" fill="#089981"/>
<rect x="424.20" y="481.8" width="0.8" height="14.0" fill="#089981"/>
<rect x="424.10" y="483.0" width="1" height="10.3" fill="#089981"/>
<rect x="425.55" y="477.2" width="0.8" height="6.2" fill="#089981"/>
<rect x="425.45" y="480.0" width="1" height="3.0" fill="#089981"/>
<rect x="426.90" y="477.6" width="0.8" height="7.0" fill="#f23645"/>
<rect x="426.80" y="480.0" width="1" height="2.5" fill="#f23645"/>
<rect x="428.25" y="473.1" width="0.8" height="11.8" fill="#089981"/>
<rect x="428.15" y="475.8" width="1" height="6.7" fill="#089981"/>
<rect x="429.60" y="470.0" width="0.8" height="8.4" fill="#089981"/>
<rect x="429.50" y="470.5" width="1" height="5.3" fill="#089981"/>
<rect x="430.95" y="460.3" width="0.8" height="14.4" fill="#089981"/>
<rect x="430.85" y="464.6" width="1" height="5.9" fill="#089981"/>
<rect x="432.30" y="458.5" width="0.8" height="7.0" fill="#089981"/>
<rect x="432.20" y="460.8" width="1" height="3.9" fill="#089981"/>
<rect x="433.65" y="457.0" width="0.8" height="8.5" fill="#f23645"/>
<rect x="433.55" y="460.8" width="1" height="1.0" fill="#f23645"/>
<rect x="435.00" y="459.8" width="0.8" height="4.3" fill="#f23645"/>
<rect x="434.90" y="461.5" width="1" height="1.5" fill="#f23645"/>
<rect x="436.35" y="458.8" width="0.8" height="10.2" fill="#f23645"/>
<rect x="436.25" y="463.0" width="1" height="5.2" fill="#f23645"/>
<rect x="437.70" y="392.0" width="0.8" height="33.0" fill="#f23645"/>
<rect x="437.60" y="403.3" width="1" height="7.6" fill="#f23645"/>
<rect x="439.05" y="403.0" width="0.8" height="25.0" fill="#f23645"/>
<rect x="438.95" y="410.9" width="1" height="6.0" fill="#f23645"/>
<rect x="440.40" y="416.2" width="0.8" height="4.9" fill="#f23645"/>
<rect x="440.30" y="416.9" width="1" height="1.0" fill="#f23645"/>
<rect x="441.75" y="401.8" width="0.8" height="17.3" fill="#089981"/>
<rect x="441.65" y="404.2" width="1" height="13.6" fill="#089981"/>
<rect x="443.10" y="372.0" width="0.8" height="48.0" fill="#089981"/>
<rect x="443.00" y="392.1" width="1" height="12.1" fill="#089981"/>
<rect x="444.45" y="370.0" width="0.8" height="56.0" fill="#089981"/>
<rect x="444.35" y="378.7" width="1" height="13.4" fill="#089981"/>
<rect x="445.80" y="377.5" width="0.8" height="18.3" fill="#f23645"/>
<rect x="445.70" y="378.7" width="1" height="14.2" fill="#f23645"/>
<rect x="447.15" y="390.4" width="0.8" height="18.1" fill="#f23645"/>
<rect x="447.05" y="392.9" width="1" height="11.7" fill="#f23645"/>
<rect x="448.50" y="400.7" width="0.8" height="11.5" fill="#f23645"/>
<rect x="448.40" y="404.6" width="1" height="6.3" fill="#f23645"/>
<rect x="449.85" y="407.2" width="0.8" height="16.3" fill="#f23645"/>
<rect x="449.75" y="410.9" width="1" height="8.5" fill="#f23645"/>
<rect x="451.20" y="417.8" width="0.8" height="8.5" fill="#f23645"/>
<rect x="451.10" y="419.4" width="1" height="2.7" fill="#f23645"/>
<rect x="452.55" y="412.0" width="0.8" height="25.0" fill="#f23645"/>
<rect x="452.45" y="422.1" width="1" height="3.1" fill="#f23645"/>
<rect x="453.90" y="420.7" width="0.8" height="7.9" fill="#089981"/>
<rect x="453.80" y="422.0" width="1" height="3.2" fill="#089981"/>
<rect x="455.25" y="419.1" width="0.8" height="6.8" fill="#089981"/>
<rect x="455.15" y="419.8" width="1" height="2.3" fill="#089981"/>
<rect x="456.60" y="413.8" width="0.8" height="6.8" fill="#089981"/>
<rect x="456.50" y="417.4" width="1" height="2.4" fill="#089981"/>
<rect x="457.95" y="405.9" width="0.8" height="11.8" fill="#089981"/>
<rect x="457.85" y="409.1" width="1" height="8.3" fill="#089981"/>
<rect x="459.30" y="397.6" width="0.8" height="15.6" fill="#089981"/>
<rect x="459.20" y="400.8" width="1" height="8.3" fill="#089981"/>
<rect x="460.65" y="400.0" width="0.8" height="4.3" fill="#f23645"/>
<rect x="460.55" y="400.8" width="1" height="1.1" fill="#f23645"/>
<rect x="462.00" y="399.5" width="0.8" height="7.3" fill="#f23645"/>
<rect x="461.90" y="401.9" width="1" height="1.7" fill="#f23645"/>
<rect x="463.35" y="401.8" width="0.8" height="2.5" fill="#089981"/>
<rect x="463.25" y="402.4" width="1" height="1.2" fill="#089981"/>
<rect x="464.70" y="388.9" width="0.8" height="15.9" fill="#089981"/>
<rect x="464.60" y="391.5" width="1" height="10.8" fill="#089981"/>
<rect x="466.05" y="390.6" width="0.8" height="3.9" fill="#f23645"/>
<rect x="465.95" y="391.5" width="1" height="2.0" fill="#f23645"/>
<rect x="467.40" y="389.7" width="0.8" height="11.5" fill="#f23645"/>
<rect x="467.30" y="393.5" width="1" height="3.2" fill="#f23645"/>
<rect x="468.75" y="396.0" width="0.8" height="4.5" fill="#f23645"/>
<rect x="468.65" y="396.7" width="1" height="3.2" fill="#f23645"/>
<rect x="470.10" y="391.4" width="0.8" height="12.1" fill="#089981"/>
<rect x="470.00" y="393.6" width="1" height="6.4" fill="#089981"/>
<rect x="471.45" y="374.0" width="0.8" height="22.1" fill="#089981"/>
<rect x="471.35" y="377.8" width="1" height="15.8" fill="#089981"/>
<rect x="472.80" y="375.0" width="0.8" height="7.0" fill="#f23645"/>
<rect x="472.70" y="377.8" width="1" height="3.8" fill="#f23645"/>
<rect x="474.15" y="377.8" width="0.8" height="15.4" fill="#f23645"/>
<rect x="474.05" y="381.6" width="1" height="10.5" fill="#f23645"/>
<rect x="475.50" y="388.7" width="0.8" height="13.3" fill="#f23645"/>
<rect x="475.40" y="392.1" width="1" height="7.9" fill="#f23645"/>
<rect x="476.85" y="398.2" width="0.8" height="4.2" fill="#089981"/>
<rect x="476.75" y="399.2" width="1" height="1.0" fill="#089981"/>
<rect x="478.20" y="395.2" width="0.8" height="9.6" fill="#f23645"/>
<rect x="478.10" y="399.2" width="1" height="1.9" fill="#f23645"/>
<rect x="479.55" y="397.2" width="0.8" height="16.5" fill="#f23645"/>
<rect x="479.45" y="401.1" width="1" height="9.7" fill="#f23645"/>
<rect x="480.90" y="408.0" width="0.8" height="7.3" fill="#f23645"/>
<rect x="480.80" y="410.8" width="1" height="2.1" fill="#f23645"/>
<rect x="482.25" y="409.2" width="0.8" height="15.1" fill="#f23645"/>
<rect x="482.15" y="412.9" width="1" height="10.0" fill="#f23645"/>
<rect x="483.60" y="419.5" width="0.8" height="10.2" fill="#f23645"/>
<rect x="483.50" y="422.9" width="1" height="3.2" fill="#f23645"/>
<rect x="484.95" y="415.2" width="0.8" height="14.9" fill="#089981"/>
<rect x="484.85" y="417.2" width="1" height="8.9" fill="#089981"/>
<rect x="486.30" y="413.0" width="0.8" height="7.7" fill="#089981"/>
<rect x="486.20" y="416.3" width="1" height="1.0" fill="#089981"/>
<rect x="487.65" y="414.3" width="0.8" height="6.1" fill="#f23645"/>
<rect x="487.55" y="416.3" width="1" height="1.0" fill="#f23645"/>
<rect x="489.00" y="407.0" width="0.8" height="12.3" fill="#089981"/>
<rect x="488.90" y="408.8" width="1" height="8.3" fill="#089981"/>
<rect x="490.35" y="407.0" width="0.8" height="5.6" fill="#f23645"/>
<rect x="490.25" y="408.8" width="1" height="1.0" fill="#f23645"/>
<rect x="491.70" y="408.3" width="0.8" height="14.9" fill="#f23645"/>
<rect x="491.60" y="409.6" width="1" height="9.4" fill="#f23645"/>
<rect x="493.05" y="415.3" width="0.8" height="6.7" fill="#089981"/>
<rect x="492.95" y="417.0" width="1" height="1.9" fill="#089981"/>
<rect x="494.40" y="406.0" width="0.8" height="13.0" fill="#089981"/>
<rect x="494.30" y="408.6" width="1" height="8.5" fill="#089981"/>
<rect x="495.75" y="405.6" width="0.8" height="12.1" fill="#f23645"/>
<rect x="495.65" y="408.6" width="1" height="5.9" fill="#f23645"/>
<rect x="497.10" y="410.0" width="0.8" height="5.3" fill="#f23645"/>
<rect x="497.00" y="414.4" width="1" height="1.0" fill="#f23645"/>
<rect x="498.45" y="411.5" width="0.8" height="9.3" fill="#f23645"/>
<rect x="498.35" y="414.9" width="1" height="4.6" fill="#f23645"/>
<rect x="499.80" y="419.0" width="0.8" height="11.0" fill="#f23645"/>
<rect x="499.70" y="419.5" width="1" height="4.3" fill="#f23645"/>
<rect x="501.15" y="415.6" width="0.8" height="9.6" fill="#089981"/>
<rect x="501.05" y="416.3" width="1" height="7.5" fill="#089981"/>
<rect x="502.50" y="409.5" width="0.8" height="9.2" fill="#089981"/>
<rect x="502.40" y="412.1" width="1" height="4.1" fill="#089981"/>
<rect x="503.85" y="401.6" width="0.8" height="15.0" fill="#089981"/>
<rect x="503.75" y="404.3" width="1" height="7.9" fill="#089981"/>
<rect x="505.20" y="400.6" width="0.8" height="7.8" fill="#f23645"/>
<rect x="505.10" y="404.3" width="1" height="3.5" fill="#f23645"/>
<rect x="506.55" y="404.3" width="0.8" height="9.8" fill="#f23645"/>
<rect x="506.45" y="407.8" width="1" height="5.8" fill="#f23645"/>
<rect x="507.90" y="412.6" width="0.8" height="5.4" fill="#f23645"/>
<rect x="507.80" y="413.6" width="1" height="2.2" fill="#f23645"/>
<rect x="509.25" y="407.7" width="0.8" height="10.9" fill="#089981"/>
<rect x="509.15" y="410.1" width="1" height="5.7" fill="#089981"/>
<rect x="510.60" y="405.9" width="0.8" height="8.5" fill="#f23645"/>
<rect x="510.50" y="410.1" width="1" height="2.1" fill="#f23645"/>
<rect x="511.95" y="409.4" width="0.8" height="11.3" fill="#f23645"/>
<rect x="511.85" y="412.2" width="1" height="6.7" fill="#f23645"/>
<rect x="513.30" y="415.9" width="0.8" height="6.5" fill="#f23645"/>
<rect x="513.20" y="418.9" width="1" height="1.0" fill="#f23645"/>
<rect x="514.65" y="415.9" width="0.8" height="5.3" fill="#089981"/>
<rect x="514.55" y="419.2" width="1" height="1.0" fill="#089981"/>
<rect x="516.00" y="410.8" width="0.8" height="8.9" fill="#089981"/>
<rect x="515.90" y="412.1" width="1" height="7.1" fill="#089981"/>
<rect x="517.35" y="396.3" width="0.8" height="17.8" fill="#089981"/>
<rect x="517.25" y="399.8" width="1" height="12.4" fill="#089981"/>
<rect x="518.70" y="396.1" width="0.8" height="4.2" fill="#089981"/>
<rect x="518.60" y="399.5" width="1" height="1.0" fill="#089981"/>
<rect x="520.05" y="391.5" width="0.8" height="8.6" fill="#089981"/>
<rect x="519.95" y="395.7" width="1" height="3.8" fill="#089981"/>
<rect x="521.40" y="392.9" width="0.8" height="5.2" fill="#089981"/>
<rect x="521.30" y="395.0" width="1" height="1.0" fill="#089981"/>
<rect x="522.75" y="393.6" width="0.8" height="7.3" fill="#f23645"/>
<rect x="522.65" y="395.0" width="1" height="3.4" fill="#f23645"/>
<rect x="524.10" y="395.1" width="0.8" height="5.7" fill="#f23645"/>
<rect x="524.00" y="398.4" width="1" height="1.0" fill="#f23645"/>
<rect x="525.45" y="393.1" width="0.8" height="8.2" fill="#089981"/>
<rect x="525.35" y="396.8" width="1" height="1.7" fill="#089981"/>
<rect x="526.80" y="387.0" width="0.8" height="12.0" fill="#089981"/>
<rect x="526.70" y="389.9" width="1" height="6.9" fill="#089981"/>
<rect x="528.15" y="389.4" width="0.8" height="5.7" fill="#f23645"/>
<rect x="528.05" y="389.9" width="1" height="2.6" fill="#f23645"/>
<rect x="529.50" y="382.7" width="0.8" height="13.0" fill="#089981"/>
<rect x="529.40" y="384.8" width="1" height="7.7" fill="#089981"/>
<rect x="530.85" y="381.5" width="0.8" height="6.1" fill="#089981"/>
<rect x="530.75" y="382.9" width="1" height="2.0" fill="#089981"/>
<rect x="532.20" y="377.4" width="0.8" height="8.0" fill="#089981"/>
<rect x="532.10" y="381.0" width="1" height="1.9" fill="#089981"/>
<rect x="533.55" y="376.7" width="0.8" height="10.7" fill="#f23645"/>
<rect x="533.45" y="381.0" width="1" height="3.0" fill="#f23645"/>
<rect x="534.90" y="381.0" width="0.8" height="7.1" fill="#089981"/>
<rect x="534.80" y="381.8" width="1" height="2.2" fill="#089981"/>
<rect x="536.25" y="378.9" width="0.8" height="18.1" fill="#f23645"/>
<rect x="536.15" y="381.8" width="1" height="13.4" fill="#f23645"/>
<rect x="537.60" y="392.0" width="0.8" height="12.2" fill="#f23645"/>
<rect x="537.50" y="395.2" width="1" height="6.4" fill="#f23645"/>
<rect x="538.95" y="398.6" width="0.8" height="12.8" fill="#f23645"/>
<rect x="538.85" y="401.6" width="1" height="6.3" fill="#f23645"/>
<rect x="540.30" y="403.8" width="0.8" height="8.6" fill="#089981"/>
<rect x="540.20" y="405.1" width="1" height="2.8" fill="#089981"/>
<rect x="541.65" y="401.1" width="0.8" height="7.6" fill="#f23645"/>
<rect x="541.55" y="405.1" width="1" height="3.1" fill="#f23645"/>
<rect x="543.00" y="394.8" width="0.8" height="15.5" fill="#089981"/>
<rect x="542.90" y="396.3" width="1" height="11.9" fill="#089981"/>
<rect x="544.35" y="389.3" width="0.8" height="9.6" fill="#089981"/>
<rect x="544.25" y="390.0" width="1" height="6.3" fill="#089981"/>
<rect x="545.70" y="386.8" width="0.8" height="6.4" fill="#089981"/>
<rect x="545.60" y="387.4" width="1" height="2.6" fill="#089981"/>
<rect x="547.05" y="384.5" width="0.8" height="13.6" fill="#f23645"/>
<rect x="546.95" y="387.4" width="1" height="8.8" fill="#f23645"/>
<rect x="548.40" y="395.0" width="0.8" height="7.8" fill="#f23645"/>
<rect x="548.30" y="396.2" width="1" height="4.8" fill="#f23645"/>
<rect x="549.75" y="397.2" width="0.8" height="12.0" fill="#f23645"/>
<rect x="549.65" y="401.0" width="1" height="7.6" fill="#f23645"/>
<rect x="551.10" y="404.9" width="0.8" height="7.7" fill="#f23645"/>
<rect x="551.00" y="408.6" width="1" height="1.1" fill="#f23645"/>
<rect x="552.45" y="408.5" width="0.8" height="26.5" fill="#f23645"/>
<rect x="552.35" y="409.7" width="1" height="16.5" fill="#f23645"/>
<rect x="553.80" y="421.3" width="0.8" height="6.8" fill="#089981"/>
<rect x="553.70" y="425.0" width="1" height="1.2" fill="#089981"/>
<rect x="555.15" y="418.7" width="0.8" height="8.0" fill="#089981"/>
<rect x="555.05" y="423.2" width="1" height="1.8" fill="#089981"/>
<rect x="556.50" y="417.6" width="0.8" height="9.8" fill="#089981"/>
<rect x="556.40" y="421.0" width="1" height="2.2" fill="#089981"/>
<rect x="557.85" y="413.3" width="0.8" height="8.4" fill="#089981"/>
<rect x="557.75" y="415.1" width="1" height="5.9" fill="#089981"/>
<rect x="559.20" y="410.4" width="0.8" height="5.4" fill="#089981"/>
<rect x="559.10" y="411.0" width="1" height="4.1" fill="#089981"/>
<rect x="560.55" y="401.0" width="0.8" height="13.1" fill="#089981"/>
<rect x="560.45" y="403.4" width="1" height="7.6" fill="#089981"/>
<rect x="561.90" y="387.4" width="0.8" height="16.5" fill="#089981"/>
<rect x="561.80" y="391.0" width="1" height="12.4" fill="#089981"/>
<rect x="563.25" y="369.2" width="0.8" height="22.4" fill="#089981"/>
<rect x="563.15" y="372.3" width="1" height="18.7" fill="#089981"/>
<rect x="564.60" y="350.1" width="0.8" height="25.4" fill="#089981"/>
<rect x="564.50" y="353.4" width="1" height="18.9" fill="#089981"/>
<rect x="565.95" y="347.0" width="0.8" height="19.0" fill="#089981"/>
<rect x="565.85" y="347.9" width="1" height="5.6" fill="#089981"/>
<rect x="567.30" y="340.0" width="0.8" height="20.0" fill="#089981"/>
<rect x="567.20" y="346.0" width="1" height="1.9" fill="#089981"/>
<rect x="568.65" y="343.3" width="0.8" height="12.2" fill="#f23645"/>
<rect x="568.55" y="346.0" width="1" height="5.3" fill="#f23645"/>
<rect x="570.00" y="347.2" width="0.8" height="20.8" fill="#f23645"/>
<rect x="569.90" y="351.3" width="1" height="10.4" fill="#f23645"/>
<rect x="571.35" y="360.1" width="0.8" height="9.7" fill="#f23645"/>
<rect x="571.25" y="361.7" width="1" height="6.5" fill="#f23645"/>
<rect x="572.70" y="363.9" width="0.8" height="10.1" fill="#f23645"/>
<rect x="572.60" y="368.2" width="1" height="1.8" fill="#f23645"/>
<rect x="574.05" y="350.0" width="0.8" height="21.7" fill="#089981"/>
<rect x="573.95" y="351.9" width="1" height="18.1" fill="#089981"/>
<rect x="575.40" y="349.9" width="0.8" height="5.9" fill="#f23645"/>
<rect x="575.30" y="351.9" width="1" height="2.0" fill="#f23645"/>
<rect x="576.75" y="351.2" width="0.8" height="18.5" fill="#f23645"/>
<rect x="576.65" y="353.9" width="1" height="12.2" fill="#f23645"/>
<rect x="578.10" y="362.2" width="0.8" height="15.9" fill="#f23645"/>
<rect x="578.00" y="366.1" width="1" height="9.4" fill="#f23645"/>
<rect x="579.45" y="364.0" width="0.8" height="15.5" fill="#089981"/>
<rect x="579.35" y="367.5" width="1" height="8.0" fill="#089981"/>
<rect x="580.80" y="362.9" width="0.8" height="7.1" fill="#089981"/>
<rect x="580.70" y="363.3" width="1" height="4.2" fill="#089981"/>
<rect x="582.15" y="356.6" width="0.8" height="11.1" fill="#089981"/>
<rect x="582.05" y="359.2" width="1" height="4.0" fill="#089981"/>
<rect x="583.50" y="348.8" width="0.8" height="11.0" fill="#089981"/>
<rect x="583.40" y="352.4" width="1" height="6.8" fill="#089981"/>
<rect x="584.85" y="341.0" width="0.8" height="29.0" fill="#089981"/>
<rect x="584.75" y="348.2" width="1" height="4.2" fill="#089981"/>
<rect x="586.20" y="344.9" width="0.8" height="19.3" fill="#f23645"/>
<rect x="586.10" y="348.2" width="1" height="11.8" fill="#f23645"/>
<rect x="587.55" y="357.1" width="0.8" height="5.3" fill="#f23645"/>
<rect x="587.45" y="360.1" width="1" height="1.5" fill="#f23645"/>
<rect x="588.90" y="358.5" width="0.8" height="5.1" fill="#f23645"/>
<rect x="588.80" y="361.5" width="1" height="1.0" fill="#f23645"/>
<rect x="590.25" y="350.1" width="0.8" height="14.7" fill="#089981"/>
<rect x="590.15" y="353.6" width="1" height="8.7" fill="#089981"/>
<rect x="591.60" y="351.5" width="0.8" height="3.8" fill="#089981"/>
<rect x="591.50" y="353.5" width="1" height="1.0" fill="#089981"/>
<rect x="592.95" y="349.3" width="0.8" height="6.5" fill="#089981"/>
<rect x="592.85" y="352.4" width="1" height="1.0" fill="#089981"/>
<rect x="594.30" y="348.4" width="0.8" height="7.3" fill="#089981"/>
<rect x="594.20" y="351.7" width="1" height="1.0" fill="#089981"/>
<rect x="595.65" y="349.7" width="0.8" height="11.6" fill="#f23645"/>
<rect x="595.55" y="351.7" width="1" height="5.8" fill="#f23645"/>
<rect x="597.00" y="353.6" width="0.8" height="11.0" fill="#f23645"/>
<rect x="596.90" y="357.5" width="1" height="3.4" fill="#f23645"/>
<rect x="598.35" y="356.9" width="0.8" height="15.1" fill="#f23645"/>
<rect x="598.25" y="360.9" width="1" height="6.7" fill="#f23645"/>
<rect x="599.70" y="365.2" width="0.8" height="13.3" fill="#f23645"/>
<rect x="599.60" y="367.7" width="1" height="7.5" fill="#f23645"/>
<rect x="601.05" y="373.1" width="0.8" height="15.3" fill="#f23645"/>
<rect x="600.95" y="375.2" width="1" height="11.2" fill="#f23645"/>
<rect x="602.40" y="383.0" width="0.8" height="12.7" fill="#f23645"/>
<rect x="602.30" y="386.4" width="1" height="4.8" fill="#f23645"/>
<rect x="603.75" y="390.2" width="0.8" height="13.0" fill="#f23645"/>
<rect x="603.65" y="391.2" width="1" height="10.9" fill="#f23645"/>
<rect x="605.10" y="400.5" width="0.8" height="6.7" fill="#f23645"/>
<rect x="605.00" y="402.1" width="1" height="1.0" fill="#f23645"/>
<rect x="606.45" y="398.8" width="0.8" height="4.9" fill="#089981"/>
<rect x="606.35" y="400.4" width="1" height="2.5" fill="#089981"/>
<rect x="607.80" y="396.9" width="0.8" height="8.6" fill="#f23645"/>
<rect x="607.70" y="400.4" width="1" height="4.0" fill="#f23645"/>
<rect x="609.15" y="396.6" width="0.8" height="10.6" fill="#089981"/>
<rect x="609.05" y="398.8" width="1" height="5.6" fill="#089981"/>
<rect x="610.50" y="398.3" width="0.8" height="7.9" fill="#f23645"/>
<rect x="610.40" y="398.8" width="1" height="6.7" fill="#f23645"/>
<rect x="611.85" y="398.8" width="0.8" height="8.0" fill="#089981"/>
<rect x="611.75" y="400.0" width="1" height="5.5" fill="#089981"/>
<rect x="613.20" y="397.2" width="0.8" height="8.6" fill="#f23645"/>
<rect x="613.10" y="400.0" width="1" height="4.6" fill="#f23645"/>
<rect x="614.55" y="399.5" width="0.8" height="6.2" fill="#089981"/>
<rect x="614.45" y="401.0" width="1" height="3.7" fill="#089981"/>
<rect x="615.90" y="399.3" width="0.8" height="9.5" fill="#f23645"/>
<rect x="615.80" y="401.0" width="1" height="5.3" fill="#f23645"/>
<rect x="617.25" y="403.9" width="0.8" height="4.9" fill="#f23645"/>
<rect x="617.15" y="406.2" width="1" height="1.2" fill="#f23645"/>
<rect x="618.60" y="403.2" width="0.8" height="7.1" fill="#f23645"/>
<rect x="618.50" y="407.4" width="1" height="1.2" fill="#f23645"/>
<rect x="619.95" y="404.3" width="0.8" height="7.2" fill="#f23645"/>
<rect x="619.85" y="408.6" width="1" height="1.0" fill="#f23645"/>
<rect x="621.30" y="408.7" width="0.8" height="11.7" fill="#f23645"/>
<rect x="621.20" y="409.2" width="1" height="6.9" fill="#f23645"/>
<rect x="622.65" y="414.2" width="0.8" height="11.2" fill="#f23645"/>
<rect x="622.55" y="416.1" width="1" height="6.7" fill="#f23645"/>
<rect x="624.00" y="421.2" width="0.8" height="6.1" fill="#089981"/>
<rect x="623.90" y="422.6" width="1" height="1.0" fill="#089981"/>
<rect x="625.35" y="421.3" width="0.8" height="4.9" fill="#f23645"/>
<rect x="625.25" y="422.6" width="1" height="3.2" fill="#f23645"/>
<rect x="626.70" y="421.5" width="0.8" height="8.1" fill="#089981"/>
<rect x="626.60" y="423.3" width="1" height="2.6" fill="#089981"/>
<rect x="628.05" y="420.5" width="0.8" height="3.9" fill="#f23645"/>
<rect x="627.95" y="423.3" width="1" height="1.0" fill="#f23645"/>
<rect x="629.40" y="415.3" width="0.8" height="9.5" fill="#089981"/>
<rect x="629.30" y="417.0" width="1" height="6.5" fill="#089981"/>
<rect x="630.75" y="414.5" width="0.8" height="9.0" fill="#f23645"/>
<rect x="630.65" y="417.0" width="1" height="3.5" fill="#f23645"/>
<rect x="632.10" y="417.9" width="0.8" height="5.1" fill="#089981"/>
<rect x="632.00" y="419.3" width="1" height="1.2" fill="#089981"/>
<rect x="633.45" y="406.9" width="0.8" height="12.7" fill="#089981"/>
<rect x="633.35" y="410.4" width="1" height="8.9" fill="#089981"/>
<rect x="634.80" y="406.6" width="0.8" height="12.5" fill="#f23645"/>
<rect x="634.70" y="410.4" width="1" height="4.9" fill="#f23645"/>
<rect x="636.15" y="407.7" width="0.8" height="10.9" fill="#089981"/>
<rect x="636.05" y="409.1" width="1" height="6.2" fill="#089981"/>
<rect x="637.50" y="406.7" width="0.8" height="4.7" fill="#089981"/>
<rect x="637.40" y="409.0" width="1" height="1.0" fill="#089981"/>
<rect x="638.85" y="406.2" width="0.8" height="14.2" fill="#f23645"/>
<rect x="638.75" y="409.0" width="1" height="7.6" fill="#f23645"/>
<rect x="640.20" y="412.8" width="0.8" height="5.8" fill="#089981"/>
<rect x="640.10" y="416.4" width="1" height="1.0" fill="#089981"/>
<rect x="641.55" y="415.7" width="0.8" height="14.8" fill="#f23645"/>
<rect x="641.45" y="416.4" width="1" height="10.3" fill="#f23645"/>
<rect x="642.90" y="420.0" width="0.8" height="12.0" fill="#089981"/>
<rect x="642.80" y="426.5" width="1" height="1.0" fill="#089981"/>
<rect x="644.25" y="420.3" width="0.8" height="7.8" fill="#089981"/>
<rect x="644.15" y="424.1" width="1" height="2.4" fill="#089981"/>
<rect x="645.60" y="420.7" width="0.8" height="5.0" fill="#089981"/>
<rect x="645.50" y="421.3" width="1" height="2.8" fill="#089981"/>
<rect x="646.95" y="415.2" width="0.8" height="7.9" fill="#089981"/>
<rect x="646.85" y="418.5" width="1" height="2.8" fill="#089981"/>
<rect x="648.30" y="414.2" width="0.8" height="6.2" fill="#089981"/>
<rect x="648.20" y="415.0" width="1" height="3.5" fill="#089981"/>
<rect x="649.65" y="403.3" width="0.8" height="15.5" fill="#089981"/>
<rect x="649.55" y="407.6" width="1" height="7.3" fill="#089981"/>
<rect x="651.00" y="403.3" width="0.8" height="6.2" fill="#089981"/>
<rect x="650.90" y="403.6" width="1" height="4.0" fill="#089981"/>
<rect x="652.35" y="396.5" width="0.8" height="9.8" fill="#089981"/>
<rect x="652.25" y="397.8" width="1" height="5.8" fill="#089981"/>
<rect x="653.70" y="389.2" width="0.8" height="13.1" fill="#089981"/>
<rect x="653.60" y="389.5" width="1" height="8.3" fill="#089981"/>
<rect x="655.05" y="385.4" width="0.8" height="7.0" fill="#089981"/>
<rect x="654.95" y="386.6" width="1" height="2.9" fill="#089981"/>
<rect x="656.40" y="375.2" width="0.8" height="14.8" fill="#089981"/>
<rect x="656.30" y="377.1" width="1" height="9.5" fill="#089981"/>
<rect x="657.75" y="375.4" width="0.8" height="11.7" fill="#f23645"/>
<rect x="657.65" y="377.1" width="1" height="8.0" fill="#f23645"/>
<rect x="659.10" y="383.7" width="0.8" height="15.7" fill="#f23645"/>
<rect x="659.00" y="385.1" width="1" height="13.2" fill="#f23645"/>
<rect x="660.45" y="396.7" width="0.8" height="12.8" fill="#f23645"/>
<rect x="660.35" y="398.3" width="1" height="6.8" fill="#f23645"/>
<rect x="661.80" y="401.8" width="0.8" height="10.0" fill="#f23645"/>
<rect x="661.70" y="405.2" width="1" height="5.0" fill="#f23645"/>
<rect x="663.15" y="409.4" width="0.8" height="1.9" fill="#f23645"/>
<rect x="663.05" y="410.1" width="1" height="1.0" fill="#f23645"/>
<rect x="664.50" y="399.3" width="0.8" height="14.5" fill="#089981"/>
<rect x="664.40" y="402.4" width="1" height="8.0" fill="#089981"/>
<rect x="665.85" y="400.4" width="0.8" height="8.7" fill="#f23645"/>
<rect x="665.75" y="402.4" width="1" height="2.9" fill="#f23645"/>
<rect x="667.20" y="404.7" width="0.8" height="8.2" fill="#f23645"/>
<rect x="667.10" y="405.4" width="1" height="6.3" fill="#f23645"/>
<rect x="668.55" y="410.8" width="0.8" height="11.5" fill="#f23645"/>
<rect x="668.45" y="411.6" width="1" height="8.7" fill="#f23645"/>
<rect x="669.90" y="416.1" width="0.8" height="8.6" fill="#f23645"/>
<rect x="669.80" y="420.3" width="1" height="2.3" fill="#f23645"/>
<rect x="671.25" y="419.6" width="0.8" height="6.8" fill="#f23645"/>
<rect x="671.15" y="422.7" width="1" height="1.0" fill="#f23645"/>
<rect x="672.60" y="421.0" width="0.8" height="5.9" fill="#f23645"/>
<rect x="672.50" y="422.9" width="1" height="2.3" fill="#f23645"/>
<rect x="673.95" y="424.9" width="0.8" height="2.8" fill="#f23645"/>
<rect x="673.85" y="425.2" width="1" height="1.0" fill="#f23645"/>
<rect x="675.30" y="421.2" width="0.8" height="14.1" fill="#f23645"/>
<rect x="675.20" y="425.7" width="1" height="6.0" fill="#f23645"/>
<rect x="676.65" y="425.0" width="0.8" height="9.0" fill="#089981"/>
<rect x="676.55" y="430.9" width="1" height="1.0" fill="#089981"/>
<rect x="678.00" y="421.6" width="0.8" height="12.4" fill="#089981"/>
<rect x="677.90" y="423.3" width="1" height="7.6" fill="#089981"/>
<rect x="679.35" y="415.0" width="0.8" height="10.8" fill="#089981"/>
<rect x="679.25" y="416.9" width="1" height="6.4" fill="#089981"/>
<rect x="680.70" y="413.1" width="0.8" height="8.4" fill="#f23645"/>
<rect x="680.60" y="416.9" width="1" height="1.7" fill="#f23645"/>
<rect x="682.05" y="406.4" width="0.8" height="16.4" fill="#089981"/>
<rect x="681.95" y="409.9" width="1" height="8.8" fill="#089981"/>
<rect x="683.40" y="408.0" width="0.8" height="4.3" fill="#089981"/>
<rect x="683.30" y="409.8" width="1" height="1.0" fill="#089981"/>
<rect x="684.75" y="401.2" width="0.8" height="13.0" fill="#089981"/>
<rect x="684.65" y="404.5" width="1" height="5.3" fill="#089981"/>
<rect x="686.10" y="401.2" width="0.8" height="8.1" fill="#f23645"/>
<rect x="686.00" y="404.5" width="1" height="1.0" fill="#f23645"/>
<rect x="687.45" y="396.8" width="0.8" height="11.6" fill="#089981"/>
<rect x="687.35" y="401.1" width="1" height="4.4" fill="#089981"/>
<rect x="688.80" y="399.1" width="0.8" height="3.4" fill="#089981"/>
<rect x="688.70" y="399.7" width="1" height="1.4" fill="#089981"/>
<rect x="690.15" y="396.5" width="0.8" height="6.6" fill="#f23645"/>
<rect x="690.05" y="399.7" width="1" height="1.6" fill="#f23645"/>
<rect x="691.50" y="399.6" width="0.8" height="5.2" fill="#f23645"/>
<rect x="691.40" y="401.4" width="1" height="1.2" fill="#f23645"/>
<rect x="692.85" y="389.7" width="0.8" height="13.7" fill="#089981"/>
<rect x="692.75" y="394.1" width="1" height="8.5" fill="#089981"/>
<rect x="694.20" y="391.5" width="0.8" height="9.5" fill="#f23645"/>
<rect x="694.10" y="394.1" width="1" height="4.2" fill="#f23645"/>
<rect x="695.55" y="396.9" width="0.8" height="7.9" fill="#f23645"/>
<rect x="695.45" y="398.3" width="1" height="2.4" fill="#f23645"/>
<rect x="696.90" y="396.9" width="0.8" height="22.8" fill="#f23645"/>
<rect x="696.80" y="400.7" width="1" height="16.3" fill="#f23645"/>
<rect x="698.25" y="413.2" width="0.8" height="7.1" fill="#f23645"/>
<rect x="698.15" y="416.9" width="1" height="1.8" fill="#f23645"/>
<rect x="699.60" y="417.4" width="0.8" height="20.6" fill="#f23645"/>
<rect x="699.50" y="418.8" width="1" height="16.5" fill="#f23645"/>
<rect x="700.95" y="434.2" width="0.8" height="17.8" fill="#f23645"/>
<rect x="700.85" y="435.3" width="1" height="11.3" fill="#f23645"/>
<rect x="702.30" y="437.0" width="0.8" height="10.6" fill="#089981"/>
<rect x="702.20" y="437.5" width="1" height="9.1" fill="#089981"/>
<rect x="703.65" y="432.2" width="0.8" height="8.3" fill="#089981"/>
<rect x="703.55" y="436.4" width="1" height="1.0" fill="#089981"/>
<rect x="705.00" y="421.4" width="0.8" height="18.4" fill="#089981"/>
<rect x="704.90" y="424.5" width="1" height="11.9" fill="#089981"/>
<rect x="706.35" y="416.2" width="0.8" height="11.9" fill="#089981"/>
<rect x="706.25" y="419.0" width="1" height="5.5" fill="#089981"/>
<rect x="707.70" y="408.9" width="0.8" height="12.4" fill="#089981"/>
<rect x="707.60" y="410.0" width="1" height="9.0" fill="#089981"/>
<rect x="709.05" y="401.5" width="0.8" height="11.2" fill="#089981"/>
<rect x="708.95" y="403.4" width="1" height="6.6" fill="#089981"/>
<rect x="710.40" y="393.3" width="0.8" height="11.6" fill="#089981"/>
<rect x="710.30" y="395.7" width="1" height="7.7" fill="#089981"/>
<rect x="711.75" y="378.4" width="0.8" height="20.3" fill="#089981"/>
<rect x="711.65" y="380.1" width="1" height="15.6" fill="#089981"/>
<rect x="713.10" y="377.0" width="0.8" height="6.0" fill="#f23645"/>
<rect x="713.00" y="380.1" width="1" height="2.0" fill="#f23645"/>
<rect x="714.45" y="379.3" width="0.8" height="9.9" fill="#f23645"/>
<rect x="714.35" y="382.1" width="1" height="4.8" fill="#f23645"/>
<rect x="715.80" y="373.4" width="0.8" height="16.7" fill="#089981"/>
<rect x="715.70" y="376.3" width="1" height="10.5" fill="#089981"/>
<rect x="717.15" y="369.5" width="0.8" height="9.2" fill="#089981"/>
<rect x="717.05" y="372.9" width="1" height="3.4" fill="#089981"/>
<rect x="718.50" y="368.5" width="0.8" height="8.4" fill="#089981"/>
<rect x="718.40" y="372.3" width="1" height="1.0" fill="#089981"/>
<rect x="719.85" y="369.1" width="0.8" height="5.9" fill="#089981"/>
<rect x="719.75" y="371.2" width="1" height="1.1" fill="#089981"/>
<rect x="721.20" y="368.7" width="0.8" height="12.1" fill="#f23645"/>
<rect x="721.10" y="371.2" width="1" height="7.1" fill="#f23645"/>
<rect x="722.55" y="370.9" width="0.8" height="9.1" fill="#089981"/>
<rect x="722.45" y="375.0" width="1" height="3.3" fill="#089981"/>
<rect x="723.90" y="369.0" width="0.8" height="10.0" fill="#089981"/>
<rect x="723.80" y="372.4" width="1" height="2.6" fill="#089981"/>
<rect x="725.25" y="369.6" width="0.8" height="7.4" fill="#f23645"/>
<rect x="725.15" y="372.4" width="1" height="1.1" fill="#f23645"/>
<rect x="726.60" y="362.2" width="0.8" height="11.9" fill="#089981"/>
<rect x="726.50" y="365.0" width="1" height="8.5" fill="#089981"/>
<rect x="727.95" y="356.3" width="0.8" height="11.1" fill="#089981"/>
<rect x="727.85" y="358.5" width="1" height="6.5" fill="#089981"/>
<rect x="729.30" y="345.8" width="0.8" height="15.8" fill="#089981"/>
<rect x="729.20" y="346.4" width="1" height="12.1" fill="#089981"/>
<rect x="730.65" y="329.0" width="0.8" height="18.9" fill="#089981"/>
<rect x="730.55" y="330.3" width="1" height="16.0" fill="#089981"/>
<rect x="732.00" y="322.4" width="0.8" height="8.5" fill="#089981"/>
<rect x="731.90" y="323.7" width="1" height="6.7" fill="#089981"/>
<rect x="733.35" y="317.9" width="0.8" height="8.8" fill="#089981"/>
<rect x="733.25" y="322.3" width="1" height="1.4" fill="#089981"/>
<rect x="734.70" y="314.5" width="0.8" height="11.5" fill="#089981"/>
<rect x="734.60" y="316.5" width="1" height="5.8" fill="#089981"/>
<rect x="736.05" y="307.0" width="0.8" height="23.0" fill="#089981"/>
<rect x="735.95" y="311.3" width="1" height="5.2" fill="#089981"/>
<rect x="737.40" y="310.6" width="0.8" height="20.4" fill="#f23645"/>
<rect x="737.30" y="311.3" width="1" height="16.0" fill="#f23645"/>
<rect x="738.75" y="324.8" width="0.8" height="7.3" fill="#f23645"/>
<rect x="738.65" y="327.3" width="1" height="1.0" fill="#f23645"/>
<rect x="740.10" y="326.4" width="0.8" height="6.3" fill="#f23645"/>
<rect x="740.00" y="327.7" width="1" height="3.4" fill="#f23645"/>
<rect x="741.45" y="325.0" width="0.8" height="17.0" fill="#f23645"/>
<rect x="741.35" y="331.1" width="1" height="2.2" fill="#f23645"/>
<rect x="742.80" y="325.4" width="0.8" height="9.7" fill="#089981"/>
<rect x="742.70" y="327.3" width="1" height="6.0" fill="#089981"/>
<rect x="744.15" y="315.9" width="0.8" height="11.8" fill="#089981"/>
<rect x="744.05" y="316.4" width="1" height="10.9" fill="#089981"/>
<rect x="745.50" y="314.8" width="0.8" height="4.0" fill="#089981"/>
<rect x="745.40" y="316.4" width="1" height="1.0" fill="#089981"/>
<rect x="746.85" y="294.6" width="0.8" height="24.1" fill="#089981"/>
<rect x="746.75" y="299.0" width="1" height="17.4" fill="#089981"/>
<rect x="748.20" y="279.3" width="0.8" height="23.8" fill="#089981"/>
<rect x="748.10" y="280.9" width="1" height="18.1" fill="#089981"/>
<rect x="749.55" y="276.0" width="0.8" height="8.7" fill="#089981"/>
<rect x="749.45" y="277.1" width="1" height="3.8" fill="#089981"/>
<rect x="750.90" y="261.8" width="0.8" height="16.3" fill="#089981"/>
<rect x="750.80" y="264.1" width="1" height="13.0" fill="#089981"/>
<rect x="752.25" y="253.2" width="0.8" height="12.0" fill="#089981"/>
<rect x="752.15" y="257.7" width="1" height="6.4" fill="#089981"/>
<rect x="753.60" y="249.0" width="0.8" height="12.8" fill="#089981"/>
<rect x="753.50" y="250.1" width="1" height="7.7" fill="#089981"/>
<rect x="754.95" y="249.3" width="0.8" height="6.2" fill="#f23645"/>
<rect x="754.85" y="250.1" width="1" height="2.1" fill="#f23645"/>
<rect x="756.30" y="248.1" width="0.8" height="16.1" fill="#f23645"/>
<rect x="756.20" y="252.2" width="1" height="8.1" fill="#f23645"/>
<rect x="757.65" y="259.4" width="0.8" height="12.9" fill="#f23645"/>
<rect x="757.55" y="260.3" width="1" height="8.8" fill="#f23645"/>
<rect x="759.00" y="257.3" width="0.8" height="12.4" fill="#089981"/>
<rect x="758.90" y="259.5" width="1" height="9.6" fill="#089981"/>
<rect x="760.35" y="238.8" width="0.8" height="23.9" fill="#089981"/>
<rect x="760.25" y="240.4" width="1" height="19.1" fill="#089981"/>
<rect x="761.70" y="229.7" width="0.8" height="12.1" fill="#089981"/>
<rect x="761.60" y="230.7" width="1" height="9.7" fill="#089981"/>
<rect x="763.05" y="222.0" width="0.8" height="10.6" fill="#089981"/>
<rect x="762.95" y="225.6" width="1" height="5.1" fill="#089981"/>
<rect x="764.40" y="221.6" width="0.8" height="13.8" fill="#f23645"/>
<rect x="764.30" y="225.6" width="1" height="7.0" fill="#f23645"/>
<rect x="765.75" y="231.0" width="0.8" height="9.1" fill="#f23645"/>
<rect x="765.65" y="232.6" width="1" height="3.3" fill="#f23645"/>
<rect x="767.10" y="234.4" width="0.8" height="13.6" fill="#f23645"/>
<rect x="767.00" y="235.9" width="1" height="9.2" fill="#f23645"/>
<rect x="768.45" y="240.6" width="0.8" height="7.6" fill="#f23645"/>
<rect x="768.35" y="245.0" width="1" height="1.0" fill="#f23645"/>
<rect x="769.80" y="240.1" width="0.8" height="6.5" fill="#089981"/>
<rect x="769.70" y="242.6" width="1" height="3.5" fill="#089981"/>
<rect x="771.15" y="233.2" width="0.8" height="10.8" fill="#089981"/>
<rect x="771.05" y="234.6" width="1" height="8.0" fill="#089981"/>
<rect x="772.50" y="234.0" width="0.8" height="3.6" fill="#f23645"/>
<rect x="772.40" y="234.6" width="1" height="1.5" fill="#f23645"/>
<rect x="773.85" y="234.8" width="0.8" height="6.5" fill="#f23645"/>
<rect x="773.75" y="236.1" width="1" height="3.7" fill="#f23645"/>
<rect x="775.20" y="236.3" width="0.8" height="7.6" fill="#089981"/>
<rect x="775.10" y="237.4" width="1" height="2.4" fill="#089981"/>
<rect x="776.55" y="233.7" width="0.8" height="5.9" fill="#089981"/>
<rect x="776.45" y="234.2" width="1" height="3.2" fill="#089981"/>
<rect x="777.90" y="227.6" width="0.8" height="10.8" fill="#089981"/>
<rect x="777.80" y="229.5" width="1" height="4.7" fill="#089981"/>
<rect x="779.25" y="228.4" width="0.8" height="12.8" fill="#f23645"/>
<rect x="779.15" y="229.5" width="1" height="9.1" fill="#f23645"/>
<rect x="780.60" y="236.8" width="0.8" height="7.6" fill="#f23645"/>
<rect x="780.50" y="238.6" width="1" height="2.7" fill="#f23645"/>
<rect x="781.95" y="232.7" width="0.8" height="11.1" fill="#089981"/>
<rect x="781.85" y="235.2" width="1" height="6.2" fill="#089981"/>
<rect x="783.30" y="229.3" width="0.8" height="8.3" fill="#089981"/>
<rect x="783.20" y="232.5" width="1" height="2.7" fill="#089981"/>
<rect x="784.65" y="230.5" width="0.8" height="5.5" fill="#089981"/>
<rect x="784.55" y="231.6" width="1" height="1.0" fill="#089981"/>
<rect x="786.00" y="221.9" width="0.8" height="11.0" fill="#089981"/>
<rect x="785.90" y="224.7" width="1" height="6.9" fill="#089981"/>
<rect x="787.35" y="221.2" width="0.8" height="10.3" fill="#f23645"/>
<rect x="787.25" y="224.7" width="1" height="3.1" fill="#f23645"/>
<rect x="788.70" y="226.5" width="0.8" height="5.6" fill="#f23645"/>
<rect x="788.60" y="227.8" width="1" height="1.9" fill="#f23645"/>
<rect x="790.10" y="208.0" width="0.8" height="12.0" fill="#089981"/>
<rect x="790.00" y="212.0" width="1" height="3.0" fill="#089981"/>
<rect x="791.40" y="207.0" width="0.8" height="9.0" fill="#089981"/>
<rect x="791.30" y="210.0" width="1" height="2.0" fill="#089981"/>
<rect x="792.90" y="208.0" width="0.8" height="29.0" fill="#f23645"/>
<rect x="792.80" y="210.0" width="1" height="5.0" fill="#f23645"/>
<rect x="794.40" y="129.0" width="0.8" height="92.0" fill="#089981"/>
<rect x="794.30" y="140.0" width="1" height="75.0" fill="#089981"/>
<rect x="795.60" y="125.0" width="0.8" height="41.0" fill="#f23645"/>
<rect x="795.50" y="140.0" width="1" height="20.0" fill="#f23645"/>
<rect x="796.80" y="134.0" width="0.8" height="32.0" fill="#089981"/>
<rect x="796.70" y="140.0" width="1" height="20.0" fill="#089981"/>
<rect x="798.00" y="138.0" width="0.8" height="28.0" fill="#f23645"/>
<rect x="797.90" y="140.0" width="1" height="20.0" fill="#f23645"/>
<rect x="799.20" y="132.0" width="0.8" height="30.0" fill="#089981"/>
<rect x="799.10" y="140.0" width="1" height="20.0" fill="#089981"/>
<rect x="800.40" y="138.0" width="0.8" height="12.0" fill="#f23645"/>
<rect x="800.30" y="140.0" width="1" height="5.0" fill="#f23645"/>
<rect x="801.60" y="132.0" width="0.8" height="14.0" fill="#089981"/>
<rect x="801.50" y="135.0" width="1" height="10.0" fill="#089981"/>
<rect x="802.80" y="127.5" width="0.8" height="13.5" fill="#f23645"/>
<rect x="802.70" y="135.0" width="1" height="3.0" fill="#f23645"/>
<rect x="804.00" y="134.0" width="0.8" height="12.0" fill="#f23645"/>
<rect x="803.90" y="138.0" width="1" height="5.0" fill="#f23645"/>
<rect x="805.20" y="141.0" width="0.8" height="5.0" fill="#089981"/>
<rect x="805.10" y="142.0" width="1" height="1.0" fill="#089981"/>
<rect x="806.40" y="140.0" width="0.8" height="5.0" fill="#f23645"/>
<rect x="806.30" y="142.0" width="1" height="1.0" fill="#f23645"/>
<rect x="807.60" y="141.0" width="0.8" height="6.0" fill="#f23645"/>
<rect x="807.50" y="142.5" width="1" height="1.5" fill="#f23645"/>
<rect x="808.80" y="141.0" width="0.8" height="6.0" fill="#089981"/>
<rect x="808.70" y="143.0" width="1" height="1.0" fill="#089981"/>
<rect x="810.10" y="141.0" width="0.8" height="9.0" fill="#f23645"/>
<rect x="810.00" y="143.0" width="1" height="5.0" fill="#f23645"/>
<rect x="811.40" y="146.0" width="0.8" height="11.0" fill="#f23645"/>
<rect x="811.30" y="148.0" width="1" height="7.0" fill="#f23645"/>
<rect x="812.70" y="153.0" width="0.8" height="17.0" fill="#f23645"/>
<rect x="812.60" y="155.0" width="1" height="13.0" fill="#f23645"/>
<rect x="814.00" y="166.0" width="0.8" height="12.0" fill="#f23645"/>
<rect x="813.90" y="168.0" width="1" height="6.0" fill="#f23645"/>
<rect x="815.30" y="170.0" width="0.8" height="8.0" fill="#089981"/>
<rect x="815.20" y="172.0" width="1" height="2.0" fill="#089981"/>
<rect x="816.60" y="170.0" width="0.8" height="13.0" fill="#f23645"/>
<rect x="816.50" y="172.0" width="1" height="8.0" fill="#f23645"/>
<rect x="817.90" y="176.0" width="0.8" height="13.0" fill="#f23645"/>
<rect x="817.80" y="180.0" width="1" height="6.0" fill="#f23645"/>
<rect x="819.20" y="180.0" width="0.8" height="19.0" fill="#f23645"/>
<rect x="819.10" y="186.0" width="1" height="6.0" fill="#f23645"/>
<rect x="820.50" y="173.0" width="0.8" height="22.0" fill="#089981"/>
<rect x="820.40" y="180.0" width="1" height="12.0" fill="#089981"/>
<rect x="821.70" y="175.0" width="0.8" height="20.0" fill="#f23645"/>
<rect x="821.60" y="180.0" width="1" height="5.0" fill="#f23645"/>
<rect x="822.80" y="106.0" width="0.8" height="86.0" fill="#089981"/>
<rect x="822.70" y="130.0" width="1" height="55.0" fill="#089981"/>
<rect x="823.90" y="113.0" width="0.8" height="52.0" fill="#f23645"/>
<rect x="823.80" y="130.0" width="1" height="30.0" fill="#f23645"/>
<rect x="825.10" y="158.0" width="0.8" height="25.0" fill="#f23645"/>
<rect x="825.00" y="160.0" width="1" height="15.0" fill="#f23645"/>
<rect x="826.30" y="170.0" width="0.8" height="20.0" fill="#f23645"/>
<rect x="826.20" y="175.0" width="1" height="10.0" fill="#f23645"/>
<rect x="827.50" y="172.0" width="0.8" height="22.0" fill="#089981"/>
<rect x="827.40" y="182.6" width="1" height="2.4" fill="#089981"/></g>

<g>
<circle cx="828.3" cy="585.5" r="14.6" fill="#fff"/>
<circle cx="828.3" cy="585.5" r="12.4" fill="#fff" stroke="#9c27b0" stroke-width="2.1"/>
<path d="M832.4 578.4 L822.6 586.9 L828.0 586.6 L823.9 592.6 L833.7 584.6 L828.0 584.8 Z" fill="#9c27b0" stroke="#9c27b0" stroke-width="0.6" stroke-linejoin="round"/>
</g>
<g>
<circle cx="968.5" cy="584.5" r="14.8" fill="#fff"/>
<circle cx="968.4" cy="584.5" r="13" fill="#fff" stroke="#f23645" stroke-width="2"/>
<circle cx="964.3" cy="584.5" r="14.2" fill="#fff"/>
<circle cx="964.3" cy="584.5" r="13" fill="#fff" stroke="#f23645" stroke-width="2"/>
<clipPath id="fl"><circle cx="964.3" cy="584.5" r="10.3"/></clipPath>
<g clip-path="url(#fl)">
<rect x="953" y="573" width="23" height="23" fill="#fff"/>
<rect x="953" y="575.5" width="23" height="3.7" fill="#ef4f4f"/>
<rect x="953" y="583.1" width="23" height="3.7" fill="#ef4f4f"/>
<rect x="953" y="590.9" width="23" height="3.7" fill="#ef4f4f"/>
<rect x="953" y="573" width="13.9" height="14.3" fill="#2a7fe0"/>
<g fill="#fff">
<circle cx="956.6" cy="577.8" r="0.7"/><circle cx="960.2" cy="577.8" r="0.7"/><circle cx="963.8" cy="577.8" r="0.7"/>
<circle cx="956.6" cy="581.2" r="0.7"/><circle cx="960.2" cy="581.2" r="0.7"/><circle cx="963.8" cy="581.2" r="0.7"/>
<circle cx="956.6" cy="584.6" r="0.7"/><circle cx="960.2" cy="584.6" r="0.7"/><circle cx="963.8" cy="584.6" r="0.7"/>
</g>
</g>
</g>

</g></g>
</svg>
<div id="txt"><div class="pl" style="top:-8.7px">0.70600</div>
<div class="pl" style="top:48.3px">0.70400</div>
<div class="pl" style="top:105.3px">0.70200</div>
<div class="pl" style="top:162.3px">0.70000</div>
<div class="pl" style="top:219.3px">0.69800</div>
<div class="pl" style="top:276.3px">0.69600</div>
<div class="pl" style="top:333.3px">0.69400</div>
<div class="pl" style="top:390.3px">0.69200</div>
<div class="pl" style="top:447.3px">0.69000</div>
<div class="pl" style="top:504.3px">0.68800</div>
<div class="pl" style="top:561.3px">0.68600</div>
<div class="tl" style="left:5.5px">22</div>
<div class="tl" style="left:188.8px">23</div>
<div class="tl" style="left:372.1px">24</div>
<div class="tl" style="left:555.4px">27</div>
<div class="tl" style="left:738.7px">28</div>
<div class="tl" style="left:922.0px">29</div>
<div class="tl" style="left:1105.3px">30</div>
<div class="lab" style="top:31px;padding-top:1.4px;background:#089981">0.70446</div>
<div class="lab" style="top:172px;height:39px;background:#089981;line-height:18px;padding-top:2.7px">0.69953<br>01:11</div>
<div class="lab" style="left:1111px;width:66px;top:172px;height:21px;border-radius:4px 0 0 4px;background:#089981;padding-left:6px;padding-top:1px;line-height:21px;font-size:14px;letter-spacing:-0.6px;-webkit-text-stroke:0.25px #fff">AUDUSD</div>
<div class="lab" style="top:333px;height:21px;line-height:21px;padding-top:0.8px;background:#808080">0.69387</div>
<div class="lab" style="top:487px;height:21px;line-height:21px;padding-top:0.7px;background:#f23645">0.68848</div>
<div class="lab" style="top:546px;width:41px;height:22px;padding-top:1.1px;background:#26a69a">598</div>
<div class="blue" style="left:826px;top:34px;transform:scaleX(0.88)">TP</div>
<div class="blue" style="left:808.5px;top:317px;transform:scaleX(0.84)">BUY</div>
<div class="blue" style="left:814px;top:482px;transform:scaleX(0.81)">SL</div>
</div><div id="bk-r"></div><div id="bk-b"></div>
</body></html>
